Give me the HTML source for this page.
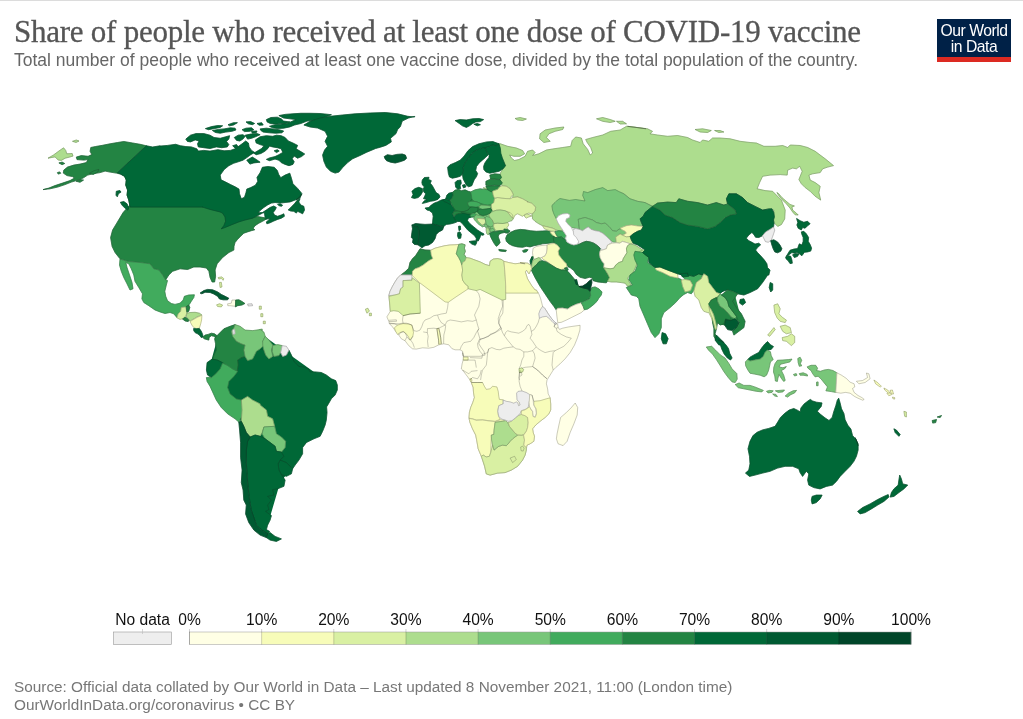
<!DOCTYPE html>
<html lang="en">
<head>
<meta charset="utf-8">
<title>Share of people who received at least one dose of COVID-19 vaccine</title>
<style>
html,body{margin:0;padding:0;background:#fff;}
html{overflow:hidden;}
body{width:1023px;height:719px;position:relative;overflow:hidden;filter:blur(0.45px);font-family:"Liberation Sans",Arial,sans-serif;}
#topline{position:absolute;left:0;top:0;width:1023px;height:1px;background:#dcdcdc;}
#title{position:absolute;left:14px;top:15.2px;margin:0;font-family:"Liberation Serif","DejaVu Serif",serif;font-weight:400;font-size:31px;line-height:34px;color:#555;white-space:nowrap;letter-spacing:-0.25px;-webkit-text-stroke:0.3px #555;}
#subtitle{position:absolute;left:14px;top:50px;margin:0;font-size:17.5px;line-height:20px;color:#666;white-space:nowrap;}
#logo{position:absolute;left:937px;top:19px;width:74px;height:37.5px;background:#002147;border-bottom:5px solid #dc2a22;color:#fff;text-align:center;font-size:15.7px;line-height:16px;letter-spacing:-0.45px;padding-top:0;box-sizing:content-box;}
#logo span{display:block;}
#logo span:first-child{padding-top:3.5px;}
#map{position:absolute;left:0;top:0;}
.leg{position:absolute;font-size:15.6px;line-height:18px;color:#111;white-space:nowrap;transform:translateX(-50%);top:611px;}
#footer{position:absolute;left:14px;top:678px;font-size:15.33px;line-height:18.3px;color:#777;white-space:nowrap;}
</style>
</head>
<body>
<div id="topline"></div>
<h1 id="title">Share of people who received at least one dose of COVID-19 vaccine</h1>
<p id="subtitle">Total number of people who received at least one vaccine dose, divided by the total population of the country.</p>
<div id="logo"><span>Our World</span><span>in Data</span></div>
<svg id="map" width="1023" height="719" viewBox="0 0 1023 719" style="position:absolute;left:0;top:0">
<g stroke-linejoin="round">
<path fill="#238443" stroke="#238443" stroke-width="0.7" d="M130.1,205.1L202.7,205.1L200,205.1L227.5,205.1L227.5,222.6L257.5,216.5L264.8,217.8L265.7,219.4L262.5,221.3L258.8,223.2L255,225.7L253.2,228.2L254.8,229.8L251.3,230.7L247.5,231.9L243.8,233.2L240.6,236.3L237.5,239.4L235,242.6L234,246.3L233.8,250.1L228.9,252.5L222.6,257.5L217.1,263.8L215.1,270L215.6,276.3L214.6,282L212.1,282L210.1,277.5L208.9,271.3L206.4,268L200.1,267L193.8,267L187.6,269.5L180.1,268.8L172.6,271.3L168.8,275L165.6,280L162.6,275L158.8,270L153.8,268.8L150,263.8L140,262.5L127.5,261.3L120,258.8L115.1,252.6L112.1,246.4L110.6,237.6L112.6,230.1L116.3,223.9L120.1,217.6L123.1,212.6L126.3,208.9Z"/>
<path fill="none" stroke="#1a1a1a" stroke-opacity="0.55" stroke-width="0.42" d="M130.1,205.1L202.7,205.1L200,205.1L227.5,205.1L227.5,222.6L257.5,216.5L264.8,217.8L265.7,219.4L262.5,221.3L258.8,223.2L255,225.7L253.2,228.2L254.8,229.8L251.3,230.7L247.5,231.9L243.8,233.2L240.6,236.3L237.5,239.4L235,242.6L234,246.3L233.8,250.1L228.9,252.5L222.6,257.5L217.1,263.8L215.1,270L215.6,276.3L214.6,282L212.1,282L210.1,277.5L208.9,271.3L206.4,268L200.1,267L193.8,267L187.6,269.5L180.1,268.8L172.6,271.3L168.8,275L165.6,280L162.6,275L158.8,270L153.8,268.8L150,263.8L140,262.5L127.5,261.3L120,258.8L115.1,252.6L112.1,246.4L110.6,237.6L112.6,230.1L116.3,223.9L120.1,217.6L123.1,212.6L126.3,208.9Z"/>
<path fill="#238443" stroke="#238443" stroke-width="0.7" d="M146.4,145.8L140.1,144.3L132.6,143L123.8,141.5L117.6,142.5L110.1,143.8L102.6,145.3L95.6,146.5L90.8,147.5L90.1,151.3L91.8,154.6L88.1,156.3L81.3,155.6L76.3,157.1L77,159.6L83.8,160.1L88.1,159.6L86.3,162.6L80,164.1L73.8,165.1L67.5,167.1L63.8,170.1L63.3,173.1L67,175.6L72.5,176.6L74.5,178.1L70,180.6L62.5,183.1L55,185.6L48.8,188.1L43,189.6L50,188.8L57.5,187.1L65,184.6L71.3,182.1L76.3,180.6L80,179.6L83.8,177.6L87.6,175.1L93.8,173.6L100.1,172.6L105.1,171.1L110.1,172.1L116.3,173.1L120.6,174.1L124.6,176.3L126.3,180.1L125.8,185.1L127.6,190.1L127.1,195.1L128.8,200.1L130.1,206.4L132.6,206.4L130.1,175.1L117.6,172.6Z"/>
<path fill="none" stroke="#1a1a1a" stroke-opacity="0.55" stroke-width="0.42" d="M146.4,145.8L140.1,144.3L132.6,143L123.8,141.5L117.6,142.5L110.1,143.8L102.6,145.3L95.6,146.5L90.8,147.5L90.1,151.3L91.8,154.6L88.1,156.3L81.3,155.6L76.3,157.1L77,159.6L83.8,160.1L88.1,159.6L86.3,162.6L80,164.1L73.8,165.1L67.5,167.1L63.8,170.1L63.3,173.1L67,175.6L72.5,176.6L74.5,178.1L70,180.6L62.5,183.1L55,185.6L48.8,188.1L43,189.6L50,188.8L57.5,187.1L65,184.6L71.3,182.1L76.3,180.6L80,179.6L83.8,177.6L87.6,175.1L93.8,173.6L100.1,172.6L105.1,171.1L110.1,172.1L116.3,173.1L120.6,174.1L124.6,176.3L126.3,180.1L125.8,185.1L127.6,190.1L127.1,195.1L128.8,200.1L130.1,206.4L132.6,206.4L130.1,175.1L117.6,172.6Z"/>
<path fill="#006837" stroke="#006837" stroke-width="0.7" d="M146.4,145.8L152.6,147L160.1,145.8L160,146.1L167.8,145.4L175.6,144.3L180.3,145.7L185.8,146.6L191.3,146.9L196.8,148.8L198.3,151.1L203.8,150.4L210,151.1L217.9,149.7L224.1,150.8L230.4,150.4L235.1,148.8L239,146.1L242.1,143.8L245.7,141L248.4,143L249.1,146.9L251.5,150.4L254.6,152.4L250.7,154.7L246.8,157.6L242.9,160.2L238.2,161.8L233.5,163.3L228.8,165.7L224.1,169.6L220.2,175.1L221,179.8L225.7,182.1L230.4,184.5L235.1,186.8L239,189.1L239.5,193.8L241.3,198.8L244.5,197.3L246,192.6L246.8,189.1L250.7,187.6L255.4,185.2L257.8,181.3L257,177.4L260.1,172.7L262.4,167.3L267.9,166.5L274.2,167.3L277.3,170.4L278.6,174.3L280.7,177.7L285.1,175.1L289.8,173.2L291.4,178.2L292.9,183.7L297.6,188.4L301.5,193.1L300,197.8L296.1,200.1L302,193.8L300.1,197.5L295.1,200L290.1,201.9L285.1,202.5L280.1,203.1L275.1,202.5L271.3,203.1L267.5,205L263.8,207.5L260,210.6L258.2,212.8L262.5,212.5L266.3,210L270,207.5L273.8,206L276.3,207.5L275.1,210L273.2,212.5L274.4,215L277.6,216.3L281.3,215L283.8,213.8L284.4,216.3L281.3,218.2L277.6,219.4L273.8,221L270,222.8L266.9,223.8L266.3,221.9L268.8,220L270,218.5L266.9,219L265.7,219.4L265,216.9L264.4,212.5L262.5,213.1L257.5,215.7L252.5,218.2L245,220L238.8,221.9L232.5,224.4L225,227.5L221.3,228.8L223.8,225.7L225.6,221.3L225,216.9L222.5,213.1L220,211.9L210,209.4L202.5,207.1L202.7,207.1L130.1,207.1L128.8,200.1L127.1,195.1L127.6,190.1L125.8,185.1L126.3,180.1L124.6,176.3L120.6,174.1L117.6,172.6Z"/>
<path fill="none" stroke="#1a1a1a" stroke-opacity="0.55" stroke-width="0.42" d="M146.4,145.8L152.6,147L160.1,145.8L160,146.1L167.8,145.4L175.6,144.3L180.3,145.7L185.8,146.6L191.3,146.9L196.8,148.8L198.3,151.1L203.8,150.4L210,151.1L217.9,149.7L224.1,150.8L230.4,150.4L235.1,148.8L239,146.1L242.1,143.8L245.7,141L248.4,143L249.1,146.9L251.5,150.4L254.6,152.4L250.7,154.7L246.8,157.6L242.9,160.2L238.2,161.8L233.5,163.3L228.8,165.7L224.1,169.6L220.2,175.1L221,179.8L225.7,182.1L230.4,184.5L235.1,186.8L239,189.1L239.5,193.8L241.3,198.8L244.5,197.3L246,192.6L246.8,189.1L250.7,187.6L255.4,185.2L257.8,181.3L257,177.4L260.1,172.7L262.4,167.3L267.9,166.5L274.2,167.3L277.3,170.4L278.6,174.3L280.7,177.7L285.1,175.1L289.8,173.2L291.4,178.2L292.9,183.7L297.6,188.4L301.5,193.1L300,197.8L296.1,200.1L302,193.8L300.1,197.5L295.1,200L290.1,201.9L285.1,202.5L280.1,203.1L275.1,202.5L271.3,203.1L267.5,205L263.8,207.5L260,210.6L258.2,212.8L262.5,212.5L266.3,210L270,207.5L273.8,206L276.3,207.5L275.1,210L273.2,212.5L274.4,215L277.6,216.3L281.3,215L283.8,213.8L284.4,216.3L281.3,218.2L277.6,219.4L273.8,221L270,222.8L266.9,223.8L266.3,221.9L268.8,220L270,218.5L266.9,219L265.7,219.4L265,216.9L264.4,212.5L262.5,213.1L257.5,215.7L252.5,218.2L245,220L238.8,221.9L232.5,224.4L225,227.5L221.3,228.8L223.8,225.7L225.6,221.3L225,216.9L222.5,213.1L220,211.9L210,209.4L202.5,207.1L202.7,207.1L130.1,207.1L128.8,200.1L127.1,195.1L127.6,190.1L125.8,185.1L126.3,180.1L124.6,176.3L120.6,174.1L117.6,172.6Z"/>
<path fill="#238443" stroke="#238443" stroke-width="0.7" d="M89.4,173.3L94.1,170.7L98.8,169.4L98,171.8L93.3,174.4Z"/>
<path fill="none" stroke="#1a1a1a" stroke-opacity="0.55" stroke-width="0.42" d="M89.4,173.3L94.1,170.7L98.8,169.4L98,171.8L93.3,174.4Z"/>
<path fill="#238443" stroke="#238443" stroke-width="0.7" d="M76.1,181.2L80,179.6L83.5,180.1L80,182.3Z"/>
<path fill="none" stroke="#1a1a1a" stroke-opacity="0.55" stroke-width="0.42" d="M76.1,181.2L80,179.6L83.5,180.1L80,182.3Z"/>
<path fill="#238443" stroke="#238443" stroke-width="0.7" d="M58.9,162.9L62.1,162.1L64.7,163.5L62.1,164.7Z"/>
<path fill="none" stroke="#1a1a1a" stroke-opacity="0.55" stroke-width="0.42" d="M58.9,162.9L62.1,162.1L64.7,163.5L62.1,164.7Z"/>
<path fill="#238443" stroke="#238443" stroke-width="0.7" d="M57.4,172.6L59.7,171.9L60.7,173.3L58.2,174.1Z"/>
<path fill="none" stroke="#1a1a1a" stroke-opacity="0.55" stroke-width="0.42" d="M57.4,172.6L59.7,171.9L60.7,173.3L58.2,174.1Z"/>
<path fill="#006837" stroke="#006837" stroke-width="0.7" d="M116.3,191.3L119.9,190.5L121,192.1L118.4,193.7L117.3,196.8L116,195.2Z"/>
<path fill="none" stroke="#1a1a1a" stroke-opacity="0.55" stroke-width="0.42" d="M116.3,191.3L119.9,190.5L121,192.1L118.4,193.7L117.3,196.8L116,195.2Z"/>
<path fill="#006837" stroke="#006837" stroke-width="0.7" d="M120.4,202.3L123.8,201.5L127,203.8L128.8,207.8L127.8,210.1L124.6,207.8L122,205.1Z"/>
<path fill="none" stroke="#1a1a1a" stroke-opacity="0.55" stroke-width="0.42" d="M120.4,202.3L123.8,201.5L127,203.8L128.8,207.8L127.8,210.1L124.6,207.8L122,205.1Z"/>
<path fill="#006837" stroke="#006837" stroke-width="0.7" d="M288.2,210L291.3,206.9L294.4,203.8L297,200.6L300.1,198.5L298.8,201.9L300.7,205L303.8,206.3L304.5,210L302.6,213.8L300.1,212.5L297.6,211.3L296.3,213.1L293.8,211.3L290.7,211Z"/>
<path fill="none" stroke="#1a1a1a" stroke-opacity="0.55" stroke-width="0.42" d="M288.2,210L291.3,206.9L294.4,203.8L297,200.6L300.1,198.5L298.8,201.9L300.7,205L303.8,206.3L304.5,210L302.6,213.8L300.1,212.5L297.6,211.3L296.3,213.1L293.8,211.3L290.7,211Z"/>
<path fill="#006837" stroke="#006837" stroke-width="0.7" d="M277.6,204.4L280.1,203.8L282.6,205.3L281.3,206.3L278.8,205.6Z"/>
<path fill="none" stroke="#1a1a1a" stroke-opacity="0.55" stroke-width="0.42" d="M277.6,204.4L280.1,203.8L282.6,205.3L281.3,206.3L278.8,205.6Z"/>
<path fill="#006837" stroke="#006837" stroke-width="0.7" d="M246.8,160.2L252.3,157.1L256.2,159.4L260.1,162.2L253.8,162.9L249.9,164.1Z"/>
<path fill="none" stroke="#1a1a1a" stroke-opacity="0.55" stroke-width="0.42" d="M246.8,160.2L252.3,157.1L256.2,159.4L260.1,162.2L253.8,162.9L249.9,164.1Z"/>
<path fill="#006837" stroke="#006837" stroke-width="0.7" d="M255.4,139.9L260.1,136.8L266.4,135.7L272.6,136.3L276.5,135.2L281.2,135.7L285.1,137.5L288.3,141L292.9,143L297.6,145.4L296.1,148.8L300.8,151.6L304.7,154L301.5,156.6L297.6,158.2L294.2,156L292.2,158.7L294.2,161.8L292.9,164.4L289,165.7L285.1,164.4L281.2,162.6L278.9,160.2L275,159.1L269.5,160.7L266.4,159.4L269.5,157.9L275,156.6L278.9,154.7L282.8,152.4L281.2,148.8L277.3,147.7L272.6,146.9L269.5,146.1L267.9,148.5L264.8,151.3L260.9,153.5L256.2,154.7L253.8,153.2L257.8,150.8L261.7,148.5L264,145.7L260.1,144.6L256.2,143Z"/>
<path fill="none" stroke="#1a1a1a" stroke-opacity="0.55" stroke-width="0.42" d="M255.4,139.9L260.1,136.8L266.4,135.7L272.6,136.3L276.5,135.2L281.2,135.7L285.1,137.5L288.3,141L292.9,143L297.6,145.4L296.1,148.8L300.8,151.6L304.7,154L301.5,156.6L297.6,158.2L294.2,156L292.2,158.7L294.2,161.8L292.9,164.4L289,165.7L285.1,164.4L281.2,162.6L278.9,160.2L275,159.1L269.5,160.7L266.4,159.4L269.5,157.9L275,156.6L278.9,154.7L282.8,152.4L281.2,148.8L277.3,147.7L272.6,146.9L269.5,146.1L267.9,148.5L264.8,151.3L260.9,153.5L256.2,154.7L253.8,153.2L257.8,150.8L261.7,148.5L264,145.7L260.1,144.6L256.2,143Z"/>
<path fill="#006837" stroke="#006837" stroke-width="0.7" d="M274.2,150.8L277.3,149.7L279.2,151L276.5,152.6Z"/>
<path fill="none" stroke="#1a1a1a" stroke-opacity="0.55" stroke-width="0.42" d="M274.2,150.8L277.3,149.7L279.2,151L276.5,152.6Z"/>
<path fill="#006837" stroke="#006837" stroke-width="0.7" d="M185.8,139.1L190.5,135.2L196,133.6L203.8,133.6L210,135.2L214,137.5L220.2,138.3L225.7,136.8L229.6,135.7L228.8,139.1L226.5,141.4L228.8,144.6L227.3,146.9L221.8,147.7L216.3,146.9L210,148.5L203.8,147.7L198.3,146.9L197.5,143.8L199.1,141L195.2,139.9L190.5,141.9L187.4,141.4Z"/>
<path fill="none" stroke="#1a1a1a" stroke-opacity="0.55" stroke-width="0.42" d="M185.8,139.1L190.5,135.2L196,133.6L203.8,133.6L210,135.2L214,137.5L220.2,138.3L225.7,136.8L229.6,135.7L228.8,139.1L226.5,141.4L228.8,144.6L227.3,146.9L221.8,147.7L216.3,146.9L210,148.5L203.8,147.7L198.3,146.9L197.5,143.8L199.1,141L195.2,139.9L190.5,141.9L187.4,141.4Z"/>
<path fill="#006837" stroke="#006837" stroke-width="0.7" d="M234.3,137.5L238.2,135.2L242.9,134.7L245.2,136.3L242.9,139.1L239.8,141L236.6,140.4Z"/>
<path fill="none" stroke="#1a1a1a" stroke-opacity="0.55" stroke-width="0.42" d="M234.3,137.5L238.2,135.2L242.9,134.7L245.2,136.3L242.9,139.1L239.8,141L236.6,140.4Z"/>
<path fill="#006837" stroke="#006837" stroke-width="0.7" d="M245.2,135.2L250.7,134.1L257,133.6L260.1,134.7L255.4,136.8L251.5,138.3L247.6,139.1Z"/>
<path fill="none" stroke="#1a1a1a" stroke-opacity="0.55" stroke-width="0.42" d="M245.2,135.2L250.7,134.1L257,133.6L260.1,134.7L255.4,136.8L251.5,138.3L247.6,139.1Z"/>
<path fill="#006837" stroke="#006837" stroke-width="0.7" d="M232.7,145.7L236.6,144.6L238.2,146.9L235.1,148.2Z"/>
<path fill="none" stroke="#1a1a1a" stroke-opacity="0.55" stroke-width="0.42" d="M232.7,145.7L236.6,144.6L238.2,146.9L235.1,148.2Z"/>
<path fill="#006837" stroke="#006837" stroke-width="0.7" d="M205.4,128.6L211.6,126.6L217.9,125.5L222.6,125.8L220.2,127.4L214.7,128.5L208.5,129.7Z"/>
<path fill="none" stroke="#1a1a1a" stroke-opacity="0.55" stroke-width="0.42" d="M205.4,128.6L211.6,126.6L217.9,125.5L222.6,125.8L220.2,127.4L214.7,128.5L208.5,129.7Z"/>
<path fill="#006837" stroke="#006837" stroke-width="0.7" d="M212.4,130.5L218.7,129.4L224.1,128.9L230.4,127.8L235.1,128.2L235.9,130L231.9,131.3L225.7,132.1L220.2,133.2L215.5,132.5Z"/>
<path fill="none" stroke="#1a1a1a" stroke-opacity="0.55" stroke-width="0.42" d="M212.4,130.5L218.7,129.4L224.1,128.9L230.4,127.8L235.1,128.2L235.9,130L231.9,131.3L225.7,132.1L220.2,133.2L215.5,132.5Z"/>
<path fill="#006837" stroke="#006837" stroke-width="0.7" d="M228,124.7L233.5,122.7L237.4,122.7L233.5,125L229.6,125.8Z"/>
<path fill="none" stroke="#1a1a1a" stroke-opacity="0.55" stroke-width="0.42" d="M228,124.7L233.5,122.7L237.4,122.7L233.5,125L229.6,125.8Z"/>
<path fill="#006837" stroke="#006837" stroke-width="0.7" d="M242.1,129.7L246,128.2L251.5,127.8L253.8,129.7L249.9,131.3L244.5,131.6Z"/>
<path fill="none" stroke="#1a1a1a" stroke-opacity="0.55" stroke-width="0.42" d="M242.1,129.7L246,128.2L251.5,127.8L253.8,129.7L249.9,131.3L244.5,131.6Z"/>
<path fill="#006837" stroke="#006837" stroke-width="0.7" d="M246,121.9L250.7,121.6L254.6,123.5L252.3,124.7L248.4,123.8Z"/>
<path fill="none" stroke="#1a1a1a" stroke-opacity="0.55" stroke-width="0.42" d="M246,121.9L250.7,121.6L254.6,123.5L252.3,124.7L248.4,123.8Z"/>
<path fill="#006837" stroke="#006837" stroke-width="0.7" d="M257,123.5L261.7,122.7L263.2,125L259.3,125.3Z"/>
<path fill="none" stroke="#1a1a1a" stroke-opacity="0.55" stroke-width="0.42" d="M257,123.5L261.7,122.7L263.2,125L259.3,125.3Z"/>
<path fill="#006837" stroke="#006837" stroke-width="0.7" d="M251.5,131.3L257,131L256.2,132.8L252.3,133.2Z"/>
<path fill="none" stroke="#1a1a1a" stroke-opacity="0.55" stroke-width="0.42" d="M251.5,131.3L257,131L256.2,132.8L252.3,133.2Z"/>
<path fill="#006837" stroke="#006837" stroke-width="0.7" d="M260.1,128.9L266.4,128.2L272.6,128.9L278.9,129.7L283.6,131L282,132.8L275.7,133.2L269.5,132.8L263.2,132.1L260.9,130.5Z"/>
<path fill="none" stroke="#1a1a1a" stroke-opacity="0.55" stroke-width="0.42" d="M260.1,128.9L266.4,128.2L272.6,128.9L278.9,129.7L283.6,131L282,132.8L275.7,133.2L269.5,132.8L263.2,132.1L260.9,130.5Z"/>
<path fill="#006837" stroke="#006837" stroke-width="0.7" d="M266.4,119.6L271,117.5L277.3,117.2L281.2,118.8L283.6,121.1L289.8,121.9L285.1,123.5L280.4,123.5L275.7,124.2L270.3,123.5L267.1,121.9Z"/>
<path fill="none" stroke="#1a1a1a" stroke-opacity="0.55" stroke-width="0.42" d="M266.4,119.6L271,117.5L277.3,117.2L281.2,118.8L283.6,121.1L289.8,121.9L285.1,123.5L280.4,123.5L275.7,124.2L270.3,123.5L267.1,121.9Z"/>
<path fill="#006837" stroke="#006837" stroke-width="0.7" d="M278.9,115.6L285.1,114.4L292.9,113.8L300.8,113.3L310.1,113.3L320,113.5L331.4,114.7L322.7,118L312.6,120.5L307,121.1L300.8,123.5L294.5,125L289.8,126.9L283.6,128.2L277.3,128.5L272.6,127.8L269.5,126.3L274.2,125L280.4,124.2L286.7,123.5L290.6,121.9L296.1,119.6L289.8,118.8L283.6,118Z"/>
<path fill="none" stroke="#1a1a1a" stroke-opacity="0.55" stroke-width="0.42" d="M278.9,115.6L285.1,114.4L292.9,113.8L300.8,113.3L310.1,113.3L320,113.5L331.4,114.7L322.7,118L312.6,120.5L307,121.1L300.8,123.5L294.5,125L289.8,126.9L283.6,128.2L277.3,128.5L272.6,127.8L269.5,126.3L274.2,125L280.4,124.2L286.7,123.5L290.6,121.9L296.1,119.6L289.8,118.8L283.6,118Z"/>
<path fill="#006837" stroke="#006837" stroke-width="0.7" d="M303.9,125L310.1,121.3L320.1,118L330.1,116.3L342.6,115L355.2,113.8L370.2,113L385.2,112.5L397.7,113.8L407.7,116.3L414.7,117L414.7,116.4L408.5,118L402.2,121.1L400.4,126.6L397.5,129.7L396,133.6L390.5,138.3L391.3,141.9L385.8,145.4L380.3,147.2L375.6,148.5L366.3,152.4L360,155.5L352.6,158.8L347.6,162.6L342.6,167.6L338.9,172.1L335.1,173.1L330.6,171.3L326.4,167.1L323.9,161.3L322.6,155.1L324.6,150L327.6,146.3L325.1,141.3L327.6,136.3L325.1,131.3L317.6,128L310.1,127Z"/>
<path fill="none" stroke="#1a1a1a" stroke-opacity="0.55" stroke-width="0.42" d="M303.9,125L310.1,121.3L320.1,118L330.1,116.3L342.6,115L355.2,113.8L370.2,113L385.2,112.5L397.7,113.8L407.7,116.3L414.7,117L414.7,116.4L408.5,118L402.2,121.1L400.4,126.6L397.5,129.7L396,133.6L390.5,138.3L391.3,141.9L385.8,145.4L380.3,147.2L375.6,148.5L366.3,152.4L360,155.5L352.6,158.8L347.6,162.6L342.6,167.6L338.9,172.1L335.1,173.1L330.6,171.3L326.4,167.1L323.9,161.3L322.6,155.1L324.6,150L327.6,146.3L325.1,141.3L327.6,136.3L325.1,131.3L317.6,128L310.1,127Z"/>
<path fill="#005a32" stroke="#005a32" stroke-width="0.7" d="M384.2,156.6L387.4,154.7L392.1,155.5L396.8,154.4L402.2,154L405.4,155.1L406.6,158.2L404.6,160.2L399.9,161.8L395.2,163L390.5,162.2L386.6,160.7L385,158.7Z"/>
<path fill="none" stroke="#1a1a1a" stroke-opacity="0.55" stroke-width="0.42" d="M384.2,156.6L387.4,154.7L392.1,155.5L396.8,154.4L402.2,154L405.4,155.1L406.6,158.2L404.6,160.2L399.9,161.8L395.2,163L390.5,162.2L386.6,160.7L385,158.7Z"/>
<path fill="#41ab5d" stroke="#41ab5d" stroke-width="0.7" d="M120,259L127.5,261.5L140,262.5L150,263.8L153.8,268.8L158.8,270L162.6,275L165.6,280L167.5,280.6L166.3,285L164.8,291.3L165.7,296.3L167.5,300.7L171.3,303.5L175,304.4L180,303.2L183.2,300L184.4,296.3L188.8,295L194.4,294.8L193.8,297.5L191.3,301.3L189.4,304.4L186.9,306.5L185.7,306.9L181.3,307.5L180.7,311.3L178.2,313.8L176.9,317.5L173.8,313.8L170,312.5L165,313.5L160,311.9L155,310L148.8,305.7L143.8,302.5L141.9,298.8L142.5,293.8L138.8,287.5L135,281.3L133.8,275L131.3,268.8L128.8,263.8L125.8,262.5L127,267.5L129.5,275L132,282.5L133,288.8L130,290L127,283.8L123.8,277.5L121.3,271.3L119.5,265Z"/>
<path fill="none" stroke="#1a1a1a" stroke-opacity="0.55" stroke-width="0.42" d="M120,259L127.5,261.5L140,262.5L150,263.8L153.8,268.8L158.8,270L162.6,275L165.6,280L167.5,280.6L166.3,285L164.8,291.3L165.7,296.3L167.5,300.7L171.3,303.5L175,304.4L180,303.2L183.2,300L184.4,296.3L188.8,295L194.4,294.8L193.8,297.5L191.3,301.3L189.4,304.4L186.9,306.5L185.7,306.9L181.3,307.5L180.7,311.3L178.2,313.8L176.9,317.5L173.8,313.8L170,312.5L165,313.5L160,311.9L155,310L148.8,305.7L143.8,302.5L141.9,298.8L142.5,293.8L138.8,287.5L135,281.3L133.8,275L131.3,268.8L128.8,263.8L125.8,262.5L127,267.5L129.5,275L132,282.5L133,288.8L130,290L127,283.8L123.8,277.5L121.3,271.3L119.5,265Z"/>
<path fill="#d9f0a3" stroke="#d9f0a3" stroke-width="0.7" d="M176.9,317.8L178.2,313.8L180.7,311.3L181.3,307.5L185.7,306.9L186.3,310L186.9,312.5L186.3,314.4L185.1,316.9L182.6,318.8L180,319.4Z"/>
<path fill="none" stroke="#1a1a1a" stroke-opacity="0.55" stroke-width="0.42" d="M176.9,317.8L178.2,313.8L180.7,311.3L181.3,307.5L185.7,306.9L186.3,310L186.9,312.5L186.3,314.4L185.1,316.9L182.6,318.8L180,319.4Z"/>
<path fill="#238443" stroke="#238443" stroke-width="0.7" d="M186.3,306.5L188.8,305L189.8,307.5L188.8,311.3L186.9,312.3L186.6,310Z"/>
<path fill="none" stroke="#1a1a1a" stroke-opacity="0.55" stroke-width="0.42" d="M186.3,306.5L188.8,305L189.8,307.5L188.8,311.3L186.9,312.3L186.6,310Z"/>
<path fill="#addd8e" stroke="#addd8e" stroke-width="0.7" d="M186.9,313.2L190.1,312.5L195.1,312.3L199.4,313.2L201.9,315L200.1,316L197.6,316.5L195.1,318.2L191.9,320L190.1,321.3L188.8,319.4L186.3,316.9Z"/>
<path fill="none" stroke="#1a1a1a" stroke-opacity="0.55" stroke-width="0.42" d="M186.9,313.2L190.1,312.5L195.1,312.3L199.4,313.2L201.9,315L200.1,316L197.6,316.5L195.1,318.2L191.9,320L190.1,321.3L188.8,319.4L186.3,316.9Z"/>
<path fill="#238443" stroke="#238443" stroke-width="0.7" d="M182.6,319L185.1,317.3L186.9,318.2L188.8,320L188.2,321.6L185.1,321Z"/>
<path fill="none" stroke="#1a1a1a" stroke-opacity="0.55" stroke-width="0.42" d="M182.6,319L185.1,317.3L186.9,318.2L188.8,320L188.2,321.6L185.1,321Z"/>
<path fill="#f7fcb9" stroke="#f7fcb9" stroke-width="0.7" d="M190.1,321.6L192.6,320L195.7,318.2L198.2,316.9L201.9,315.3L201.6,320L200.7,323.8L199.4,328.2L196.3,328.6L193.8,327.6L191.9,325.1Z"/>
<path fill="none" stroke="#1a1a1a" stroke-opacity="0.55" stroke-width="0.42" d="M190.1,321.6L192.6,320L195.7,318.2L198.2,316.9L201.9,315.3L201.6,320L200.7,323.8L199.4,328.2L196.3,328.6L193.8,327.6L191.9,325.1Z"/>
<path fill="#006837" stroke="#006837" stroke-width="0.7" d="M193.6,328.6L196.3,328.8L199.4,328.6L201.3,331.3L202.6,334.4L203.2,336.9L201.3,337.6L199.4,335.1L197.6,333.8L195.1,332.6L193.8,330.7Z"/>
<path fill="none" stroke="#1a1a1a" stroke-opacity="0.55" stroke-width="0.42" d="M193.6,328.6L196.3,328.8L199.4,328.6L201.3,331.3L202.6,334.4L203.2,336.9L201.3,337.6L199.4,335.1L197.6,333.8L195.1,332.6L193.8,330.7Z"/>
<path fill="#238443" stroke="#238443" stroke-width="0.7" d="M203.2,336.9L205.1,335.1L208.2,334.4L211.3,333.2L214.5,333.8L217,335.7L216.3,338.2L213.8,336.3L211.3,335.7L209.1,337.6L208.8,340.1L206.3,339.4L203.8,338.6Z"/>
<path fill="none" stroke="#1a1a1a" stroke-opacity="0.55" stroke-width="0.42" d="M203.2,336.9L205.1,335.1L208.2,334.4L211.3,333.2L214.5,333.8L217,335.7L216.3,338.2L213.8,336.3L211.3,335.7L209.1,337.6L208.8,340.1L206.3,339.4L203.8,338.6Z"/>
<path fill="#005a32" stroke="#005a32" stroke-width="0.7" d="M200.1,293.1L203.8,290.6L207.6,289.4L212.6,289.8L217.6,291.9L221.3,294.4L225.1,296.3L228.8,298.2L227.6,299.8L223.2,299.8L219.5,299L217.6,296.3L213.8,294L210.1,292.5L205.1,292.3L201.9,293.8Z"/>
<path fill="none" stroke="#1a1a1a" stroke-opacity="0.55" stroke-width="0.42" d="M200.1,293.1L203.8,290.6L207.6,289.4L212.6,289.8L217.6,291.9L221.3,294.4L225.1,296.3L228.8,298.2L227.6,299.8L223.2,299.8L219.5,299L217.6,296.3L213.8,294L210.1,292.5L205.1,292.3L201.9,293.8Z"/>
<path fill="#ffffe5" stroke="#ffffe5" stroke-width="0.7" d="M227.6,303.8L231.3,303.2L232,300L235.7,300L235.4,306.3L230.1,305.7L227.8,305.7Z"/>
<path fill="none" stroke="#1a1a1a" stroke-opacity="0.55" stroke-width="0.42" d="M227.6,303.8L231.3,303.2L232,300L235.7,300L235.4,306.3L230.1,305.7L227.8,305.7Z"/>
<path fill="#238443" stroke="#238443" stroke-width="0.7" d="M235.7,300L238.9,299.8L242,301.5L244.9,303.5L242,305L237.6,305.7L235.4,306.9Z"/>
<path fill="none" stroke="#1a1a1a" stroke-opacity="0.55" stroke-width="0.42" d="M235.7,300L238.9,299.8L242,301.5L244.9,303.5L242,305L237.6,305.7L235.4,306.9Z"/>
<path fill="#d9f0a3" stroke="#d9f0a3" stroke-width="0.7" d="M216.6,304.8L219.5,303.8L222.6,305L221.3,306.9L217.6,306.5Z"/>
<path fill="none" stroke="#1a1a1a" stroke-opacity="0.55" stroke-width="0.42" d="M216.6,304.8L219.5,303.8L222.6,305L221.3,306.9L217.6,306.5Z"/>
<path fill="#ededed" stroke="#ededed" stroke-width="0.7" d="M247.6,304L252,303.8L252.6,305.7L248.2,306Z"/>
<path fill="none" stroke="#1a1a1a" stroke-opacity="0.55" stroke-width="0.42" d="M247.6,304L252,303.8L252.6,305.7L248.2,306Z"/>
<path fill="#d9f0a3" stroke="#d9f0a3" stroke-width="0.7" d="M218.2,277.5L222,276.9L223.8,278.8L223.2,280.3L221.3,278.5L218.8,279Z"/>
<path fill="none" stroke="#1a1a1a" stroke-opacity="0.55" stroke-width="0.42" d="M218.2,277.5L222,276.9L223.8,278.8L223.2,280.3L221.3,278.5L218.8,279Z"/>
<path fill="#d9f0a3" stroke="#d9f0a3" stroke-width="0.7" d="M219.5,282.5L221.3,282.3L222,286.9L220.1,287.5Z"/>
<path fill="none" stroke="#1a1a1a" stroke-opacity="0.55" stroke-width="0.42" d="M219.5,282.5L221.3,282.3L222,286.9L220.1,287.5Z"/>
<path fill="#d9f0a3" stroke="#d9f0a3" stroke-width="0.7" d="M259.3,306.2L261.3,306.2L261.3,309.2L259.3,309.2Z"/>
<path fill="none" stroke="#1a1a1a" stroke-opacity="0.55" stroke-width="0.42" d="M259.3,306.2L261.3,306.2L261.3,309.2L259.3,309.2Z"/>
<path fill="#d9f0a3" stroke="#d9f0a3" stroke-width="0.7" d="M260.8,313.7L262.8,313.7L262.8,316.7L260.8,316.7Z"/>
<path fill="none" stroke="#1a1a1a" stroke-opacity="0.55" stroke-width="0.42" d="M260.8,313.7L262.8,313.7L262.8,316.7L260.8,316.7Z"/>
<path fill="#d9f0a3" stroke="#d9f0a3" stroke-width="0.7" d="M263.3,321.2L265.3,321.2L265.3,323.7L263.3,323.7Z"/>
<path fill="none" stroke="#1a1a1a" stroke-opacity="0.55" stroke-width="0.42" d="M263.3,321.2L265.3,321.2L265.3,323.7L263.3,323.7Z"/>
<path fill="#d9f0a3" stroke="#d9f0a3" stroke-width="0.7" d="M365.4,309.2L367.9,308.2L369.4,311.2L366.9,313.2Z"/>
<path fill="none" stroke="#1a1a1a" stroke-opacity="0.55" stroke-width="0.42" d="M365.4,309.2L367.9,308.2L369.4,311.2L366.9,313.2Z"/>
<path fill="#d9f0a3" stroke="#d9f0a3" stroke-width="0.7" d="M369.4,313.2L371.4,313.2L371.4,315.7L369.4,315.7Z"/>
<path fill="none" stroke="#1a1a1a" stroke-opacity="0.55" stroke-width="0.42" d="M369.4,313.2L371.4,313.2L371.4,315.7L369.4,315.7Z"/>
<path fill="#78c679" stroke="#78c679" stroke-width="0.7" d="M259.2,329.6L262.2,329.1L262.2,331.6L259.7,331.6Z"/>
<path fill="none" stroke="#1a1a1a" stroke-opacity="0.55" stroke-width="0.42" d="M259.2,329.6L262.2,329.1L262.2,331.6L259.7,331.6Z"/>
<path fill="#006837" d="M217.6,337.6L240.1,330.1L262.7,335.1L290.2,355.1L325.2,380.1L320.2,425L300.1,450L290.1,470.1L280.1,482.6L267.6,525.1L252.6,520.1L243.8,430L240.1,420.2L212.6,385.1L210.1,365.1Z"/>
<path fill="#006837" stroke="#006837" stroke-width="0.7" d="M251.4,357.6L255.2,350.1L260.2,348.8L263.9,350.1L265.7,355.1L268.9,358.9L272.7,356.4L278.9,355.6L282.7,356.4L286.4,355.1L288.9,350.1L291.4,355.1L293.9,361.4L297.6,364.8L298.8,366.5L303.8,366.9L308.2,368.8L310.1,371.9L315.1,371.9L321.3,372.5L326.3,375L331.3,378.8L335.7,380.6L337.3,385L337.3,390L335.1,395L331.3,398.8L328.8,403.2L326.6,406.9L327,412.6L326.3,420.1L325.1,425.1L322.6,431.3L320.1,436.3L313.9,438.8L306.4,442.5L302.6,447.5L302.6,453.8L298.9,460.1L295.1,465.1L292.6,468.8L286.4,462.6L280.1,460.1L280.1,453.8L282.6,450L281.4,440L276.4,435L270.1,427.5L270.1,418.8L265.1,416.3L263.9,410L257.6,406.3L250.1,402.5L247.6,397.6L241.4,400.1L236.4,398.9L230.1,393.9L227.6,387.6L228.9,381.4L233.9,376.4L237.1,372.1L238.1,365.1L237.6,360.1L241.4,357.6L245.1,356.4L247.6,360.6Z"/>
<path fill="none" stroke="#1a1a1a" stroke-opacity="0.55" stroke-width="0.42" d="M251.4,357.6L255.2,350.1L260.2,348.8L263.9,350.1L265.7,355.1L268.9,358.9L272.7,356.4L278.9,355.6L282.7,356.4L286.4,355.1L288.9,350.1L291.4,355.1L293.9,361.4L297.6,364.8L298.8,366.5L303.8,366.9L308.2,368.8L310.1,371.9L315.1,371.9L321.3,372.5L326.3,375L331.3,378.8L335.7,380.6L337.3,385L337.3,390L335.1,395L331.3,398.8L328.8,403.2L326.6,406.9L327,412.6L326.3,420.1L325.1,425.1L322.6,431.3L320.1,436.3L313.9,438.8L306.4,442.5L302.6,447.5L302.6,453.8L298.9,460.1L295.1,465.1L292.6,468.8L286.4,462.6L280.1,460.1L280.1,453.8L282.6,450L281.4,440L276.4,435L270.1,427.5L270.1,418.8L265.1,416.3L263.9,410L257.6,406.3L250.1,402.5L247.6,397.6L241.4,400.1L236.4,398.9L230.1,393.9L227.6,387.6L228.9,381.4L233.9,376.4L237.1,372.1L238.1,365.1L237.6,360.1L241.4,357.6L245.1,356.4L247.6,360.6Z"/>
<path fill="#238443" stroke="#238443" stroke-width="0.7" d="M216.4,336.3L220.1,332.6L223.9,328.8L230.1,326.3L235.1,324.6L233.9,328.1L231.4,331.3L232.6,336.3L236.4,341.3L241.4,343.8L245.1,345.1L243.9,350.1L245.1,356.4L241.4,357.6L237.6,360.1L238.1,365.1L237.1,371.4L232.6,369.6L227.6,366.4L222.6,362.6L217.6,360.6L212.6,359.6L213.9,355.1L216.4,350.1L215.6,343.8L214.6,338.8Z"/>
<path fill="none" stroke="#1a1a1a" stroke-opacity="0.55" stroke-width="0.42" d="M216.4,336.3L220.1,332.6L223.9,328.8L230.1,326.3L235.1,324.6L233.9,328.1L231.4,331.3L232.6,336.3L236.4,341.3L241.4,343.8L245.1,345.1L243.9,350.1L245.1,356.4L241.4,357.6L237.6,360.1L238.1,365.1L237.1,371.4L232.6,369.6L227.6,366.4L222.6,362.6L217.6,360.6L212.6,359.6L213.9,355.1L216.4,350.1L215.6,343.8L214.6,338.8Z"/>
<path fill="#78c679" stroke="#78c679" stroke-width="0.7" d="M235.1,324.6L240.1,326.3L245.1,330.1L252.6,330.6L260.2,329.6L263.9,332.1L265.2,336.3L262.7,341.3L263.9,345.1L260.2,348.8L256.4,351.3L252.6,358.9L247.6,360.6L245.1,356.4L243.9,350.1L245.1,345.1L241.4,343.8L236.4,341.3L232.6,336.3L231.4,331.3L233.9,328.1Z"/>
<path fill="none" stroke="#1a1a1a" stroke-opacity="0.55" stroke-width="0.42" d="M235.1,324.6L240.1,326.3L245.1,330.1L252.6,330.6L260.2,329.6L263.9,332.1L265.2,336.3L262.7,341.3L263.9,345.1L260.2,348.8L256.4,351.3L252.6,358.9L247.6,360.6L245.1,356.4L243.9,350.1L245.1,345.1L241.4,343.8L236.4,341.3L232.6,336.3L231.4,331.3L233.9,328.1Z"/>
<path fill="#ededed" stroke="#ededed" stroke-width="0.7" d="M232.6,330.1L234.6,329.1L235.1,333.8L233.1,334.6Z"/>
<path fill="none" stroke="#1a1a1a" stroke-opacity="0.55" stroke-width="0.42" d="M232.6,330.1L234.6,329.1L235.1,333.8L233.1,334.6Z"/>
<path fill="#78c679" stroke="#78c679" stroke-width="0.7" d="M265.2,336.3L268.9,340.1L272.7,345.1L271.4,350.1L272.7,356.4L268.9,358.9L265.7,355.1L263.9,350.1L262.7,345.1L262.7,341.3Z"/>
<path fill="none" stroke="#1a1a1a" stroke-opacity="0.55" stroke-width="0.42" d="M265.2,336.3L268.9,340.1L272.7,345.1L271.4,350.1L272.7,356.4L268.9,358.9L265.7,355.1L263.9,350.1L262.7,345.1L262.7,341.3Z"/>
<path fill="#78c679" stroke="#78c679" stroke-width="0.7" d="M272.7,345.6L277.7,344.6L282.2,345.6L281.4,351.3L278.9,355.6L273.9,356.4L272.2,351.3Z"/>
<path fill="none" stroke="#1a1a1a" stroke-opacity="0.55" stroke-width="0.42" d="M272.7,345.6L277.7,344.6L282.2,345.6L281.4,351.3L278.9,355.6L273.9,356.4L272.2,351.3Z"/>
<path fill="#ededed" stroke="#ededed" stroke-width="0.7" d="M282.2,345.6L286.4,346.3L288.9,350.1L286.4,355.1L282.7,356.4L280.7,352.6Z"/>
<path fill="none" stroke="#1a1a1a" stroke-opacity="0.55" stroke-width="0.42" d="M282.2,345.6L286.4,346.3L288.9,350.1L286.4,355.1L282.7,356.4L280.7,352.6Z"/>
<path fill="#006837" stroke="#006837" stroke-width="0.7" d="M207.1,362.6L212.1,359.1L217.6,360.1L223.1,363.1L220.1,368.9L215.6,373.9L211.4,377.6L207.6,375.1L206.4,370.1Z"/>
<path fill="none" stroke="#1a1a1a" stroke-opacity="0.55" stroke-width="0.42" d="M207.1,362.6L212.1,359.1L217.6,360.1L223.1,363.1L220.1,368.9L215.6,373.9L211.4,377.6L207.6,375.1L206.4,370.1Z"/>
<path fill="#41ab5d" stroke="#41ab5d" stroke-width="0.7" d="M206.4,377.6L211.4,377.6L215.6,373.9L220.1,368.9L222.6,363.1L227.6,365.6L232.6,368.9L237.6,371.4L233.9,376.4L228.9,381.4L227.6,387.6L230.1,393.9L236.4,398.9L241.4,400.1L242.6,410.2L241.4,420.2L241.3,417.5L238.8,422L235.1,418.8L227.6,413.8L221.3,407.5L216.3,400L210.1,386.4L207.1,381.4Z"/>
<path fill="none" stroke="#1a1a1a" stroke-opacity="0.55" stroke-width="0.42" d="M206.4,377.6L211.4,377.6L215.6,373.9L220.1,368.9L222.6,363.1L227.6,365.6L232.6,368.9L237.6,371.4L233.9,376.4L228.9,381.4L227.6,387.6L230.1,393.9L236.4,398.9L241.4,400.1L242.6,410.2L241.4,420.2L241.3,417.5L238.8,422L235.1,418.8L227.6,413.8L221.3,407.5L216.3,400L210.1,386.4L207.1,381.4Z"/>
<path fill="#addd8e" stroke="#addd8e" stroke-width="0.7" d="M241.4,400.1L247.6,396.4L252.6,400.1L260.2,403.9L260.1,405L266.4,410L267.6,416.3L272.6,418.8L274.6,426.3L263.9,427L262.1,432.5L260.1,436.3L255.1,435L250.1,437L246.3,432.5L243.8,426.3L241.3,421.3L242.1,410Z"/>
<path fill="none" stroke="#1a1a1a" stroke-opacity="0.55" stroke-width="0.42" d="M241.4,400.1L247.6,396.4L252.6,400.1L260.2,403.9L260.1,405L266.4,410L267.6,416.3L272.6,418.8L274.6,426.3L263.9,427L262.1,432.5L260.1,436.3L255.1,435L250.1,437L246.3,432.5L243.8,426.3L241.3,421.3L242.1,410Z"/>
<path fill="#78c679" stroke="#78c679" stroke-width="0.7" d="M263.9,427L274.6,426.3L276.4,433.8L281.4,437L285.6,441.3L285.1,447.5L281.4,452.1L276.4,451.3L275.1,446.3L270.1,442.5L265.1,438.8L262.1,433.8Z"/>
<path fill="none" stroke="#1a1a1a" stroke-opacity="0.55" stroke-width="0.42" d="M263.9,427L274.6,426.3L276.4,433.8L281.4,437L285.6,441.3L285.1,447.5L281.4,452.1L276.4,451.3L275.1,446.3L270.1,442.5L265.1,438.8L262.1,433.8Z"/>
<path fill="#006837" stroke="#006837" stroke-width="0.7" d="M280.1,460.1L286.4,462.6L292.6,468.8L291.4,473.8L286.4,476.3L281.4,474.6L278.9,470.1L278.1,463.8Z"/>
<path fill="none" stroke="#1a1a1a" stroke-opacity="0.55" stroke-width="0.42" d="M280.1,460.1L286.4,462.6L292.6,468.8L291.4,473.8L286.4,476.3L281.4,474.6L278.9,470.1L278.1,463.8Z"/>
<path fill="#006837" stroke="#006837" stroke-width="0.7" d="M250.1,437L255.1,435L260.1,436.3L265.1,438.8L270.1,442.5L275.1,446.3L276.4,451.3L281.4,452.1L283.9,456.3L280.1,460.1L278.1,463.8L278.9,470.1L281.4,474.6L285.1,480.1L283.9,486.3L277.6,488.8L272.6,489.6L273.9,495.1L267.6,496.3L271.4,500.1L267.6,505.1L268.9,509.6L265.6,511.4L271.4,515.6L270.1,520.1L267.6,525.1L266.4,529.6L269.6,531.4L267.6,533.9L263.9,531.4L260.1,528.9L256.4,525.1L253.9,517.6L251.3,510.1L249.6,500.1L248.1,487.6L247.1,475.1L246.3,462.6L246.3,450L247.6,441.3Z"/>
<path fill="none" stroke="#1a1a1a" stroke-opacity="0.55" stroke-width="0.42" d="M250.1,437L255.1,435L260.1,436.3L265.1,438.8L270.1,442.5L275.1,446.3L276.4,451.3L281.4,452.1L283.9,456.3L280.1,460.1L278.1,463.8L278.9,470.1L281.4,474.6L285.1,480.1L283.9,486.3L277.6,488.8L272.6,489.6L273.9,495.1L267.6,496.3L271.4,500.1L267.6,505.1L268.9,509.6L265.6,511.4L271.4,515.6L270.1,520.1L267.6,525.1L266.4,529.6L269.6,531.4L267.6,533.9L263.9,531.4L260.1,528.9L256.4,525.1L253.9,517.6L251.3,510.1L249.6,500.1L248.1,487.6L247.1,475.1L246.3,462.6L246.3,450L247.6,441.3Z"/>
<path fill="#006837" stroke="#006837" stroke-width="0.7" d="M266.4,533.9L270.1,532.6L275.1,536.4L281.4,538.9L276.4,541.4L270.1,540.1L266.4,537.6Z"/>
<path fill="none" stroke="#1a1a1a" stroke-opacity="0.55" stroke-width="0.42" d="M266.4,533.9L270.1,532.6L275.1,536.4L281.4,538.9L276.4,541.4L270.1,540.1L266.4,537.6Z"/>
<path fill="#005a32" stroke="#005a32" stroke-width="0.7" d="M238.8,422L241.3,421.3L243.8,426.3L246.3,432.5L250.1,437L247.6,441.3L246.3,450L246.3,462.6L247.1,475.1L248.1,487.6L249.6,500.1L251.3,510.1L253.9,517.6L256.4,525.1L260.1,528.9L263.9,531.4L267.6,533.9L266.4,537.6L260.1,535.1L253.9,530.1L248.8,522.6L245.6,513.9L246.3,505.1L243.8,500.1L243.1,490.1L241.3,482.6L242.1,470.1L240.6,457.6L240.6,442.5L239.6,430Z"/>
<path fill="none" stroke="#1a1a1a" stroke-opacity="0.55" stroke-width="0.42" d="M238.8,422L241.3,421.3L243.8,426.3L246.3,432.5L250.1,437L247.6,441.3L246.3,450L246.3,462.6L247.1,475.1L248.1,487.6L249.6,500.1L251.3,510.1L253.9,517.6L256.4,525.1L260.1,528.9L263.9,531.4L267.6,533.9L266.4,537.6L260.1,535.1L253.9,530.1L248.8,522.6L245.6,513.9L246.3,505.1L243.8,500.1L243.1,490.1L241.3,482.6L242.1,470.1L240.6,457.6L240.6,442.5L239.6,430Z"/>
<path fill="#addd8e" stroke="#addd8e" stroke-width="0.7" d="M499.6,143.5L507.6,146.3L516.4,148L522.6,150.5L524.6,153.8L520.1,156.3L513.9,156.3L509.6,155L511.4,158L514.6,160.5L518.9,159.5L525.1,156.3L527.6,151.3L532.6,150L535.1,152.5L532.6,155.5L538.9,153.8L546.4,150L553.9,148.8L562.7,147.5L570.7,146.3L572.2,140.5L575.7,137L581.4,138L583.2,143.8L587.7,149.5L590.2,155L592.7,153L590.7,147.5L587.2,142.5L585.7,139.5L592.7,137.5L602.7,135L610.7,131.3L620.2,130L626.5,126.3L636.5,127.5L646,128.8L627.5,126.3L637.5,127.5L647.5,128.8L652.5,131.3L650,133.8L657.5,135L667.5,136.3L677.6,135.5L687.6,137.5L692.6,140L700.1,142.5L702.6,140L708.8,141.3L712.6,138L720.1,138L730.1,138.8L740.1,141.3L750.1,142.5L756.4,143L763.9,146.3L775.2,146.3L782.7,145.5L787.7,147.5L790.2,145L800.2,145.5L807.7,147.5L815.2,151.3L820.2,155.1L825.2,158.8L833.5,165.6L827.7,167.1L822.7,168.8L820.2,172.6L812.7,173.8L808.9,175.1L810.2,180.1L815.2,182.6L820.2,186.3L818.9,192.6L820.7,200.1L815.2,196.3L810.2,191.3L805.2,187.6L801.4,183.8L798.9,179.6L802.2,171.3L799.7,166.3L796.4,168.8L792.7,168.1L787.7,170.1L787.2,175.1L780.2,174.6L770.1,175.1L762.6,176.3L759.6,182.6L757.1,188.8L765.1,190.6L772.6,191.3L776.4,195.1L781.4,200.1L785.2,210.1L784.7,218.9L781.4,224.6L777.7,226.4L773.9,222.6L773.1,217.6L773.9,210.1L768.9,208.9L762.6,210.1L755.1,206.4L747.6,202.6L742.6,197.6L736.4,193.8L728.9,193.8L726.4,198.8L727.6,203.9L723.9,205.1L716.3,202.6L707.6,205.1L697.6,202.6L687.6,201.3L678.8,198.8L676.3,202.6L667.5,202.1L657.5,203.1L652.5,206.4L645,202.6L637.5,201.3L630,198.8L623.8,193.8L620,192.1L615.2,196.3L602.7,195.1L590.2,197.6L585.2,203.1L575.2,202.1L565.2,201.1L557.7,201.6L552.7,204.6L553.9,210.1L556.4,214.6L556.3,218.8L558.2,223.1L560.7,226.9L563.2,230.7L558.8,230.7L556.3,230L552.5,228.2L547.5,226.9L542.5,225.7L538.8,223.8L535,221.3L532.5,218.8L532.5,216.3L531.9,213.8L533.8,212.5L535,210.6L535.6,207.5L533.8,205L531.3,203.1L527.5,201.9L528,201.9L522.6,198.8L517.6,196.9L512.6,197.6L513.2,194.4L512,191.9L510.1,188.8L506.4,186.3L502,185.7L501.3,182.6L499.5,179.4L500.1,176.9L500.7,172.5L503.2,168.2L505.1,165.7L502,160L500.1,156.3L498.8,151.9L498.8,147.5L499.5,143.5Z"/>
<path fill="none" stroke="#1a1a1a" stroke-opacity="0.55" stroke-width="0.42" d="M499.6,143.5L507.6,146.3L516.4,148L522.6,150.5L524.6,153.8L520.1,156.3L513.9,156.3L509.6,155L511.4,158L514.6,160.5L518.9,159.5L525.1,156.3L527.6,151.3L532.6,150L535.1,152.5L532.6,155.5L538.9,153.8L546.4,150L553.9,148.8L562.7,147.5L570.7,146.3L572.2,140.5L575.7,137L581.4,138L583.2,143.8L587.7,149.5L590.2,155L592.7,153L590.7,147.5L587.2,142.5L585.7,139.5L592.7,137.5L602.7,135L610.7,131.3L620.2,130L626.5,126.3L636.5,127.5L646,128.8L627.5,126.3L637.5,127.5L647.5,128.8L652.5,131.3L650,133.8L657.5,135L667.5,136.3L677.6,135.5L687.6,137.5L692.6,140L700.1,142.5L702.6,140L708.8,141.3L712.6,138L720.1,138L730.1,138.8L740.1,141.3L750.1,142.5L756.4,143L763.9,146.3L775.2,146.3L782.7,145.5L787.7,147.5L790.2,145L800.2,145.5L807.7,147.5L815.2,151.3L820.2,155.1L825.2,158.8L833.5,165.6L827.7,167.1L822.7,168.8L820.2,172.6L812.7,173.8L808.9,175.1L810.2,180.1L815.2,182.6L820.2,186.3L818.9,192.6L820.7,200.1L815.2,196.3L810.2,191.3L805.2,187.6L801.4,183.8L798.9,179.6L802.2,171.3L799.7,166.3L796.4,168.8L792.7,168.1L787.7,170.1L787.2,175.1L780.2,174.6L770.1,175.1L762.6,176.3L759.6,182.6L757.1,188.8L765.1,190.6L772.6,191.3L776.4,195.1L781.4,200.1L785.2,210.1L784.7,218.9L781.4,224.6L777.7,226.4L773.9,222.6L773.1,217.6L773.9,210.1L768.9,208.9L762.6,210.1L755.1,206.4L747.6,202.6L742.6,197.6L736.4,193.8L728.9,193.8L726.4,198.8L727.6,203.9L723.9,205.1L716.3,202.6L707.6,205.1L697.6,202.6L687.6,201.3L678.8,198.8L676.3,202.6L667.5,202.1L657.5,203.1L652.5,206.4L645,202.6L637.5,201.3L630,198.8L623.8,193.8L620,192.1L615.2,196.3L602.7,195.1L590.2,197.6L585.2,203.1L575.2,202.1L565.2,201.1L557.7,201.6L552.7,204.6L553.9,210.1L556.4,214.6L556.3,218.8L558.2,223.1L560.7,226.9L563.2,230.7L558.8,230.7L556.3,230L552.5,228.2L547.5,226.9L542.5,225.7L538.8,223.8L535,221.3L532.5,218.8L532.5,216.3L531.9,213.8L533.8,212.5L535,210.6L535.6,207.5L533.8,205L531.3,203.1L527.5,201.9L528,201.9L522.6,198.8L517.6,196.9L512.6,197.6L513.2,194.4L512,191.9L510.1,188.8L506.4,186.3L502,185.7L501.3,182.6L499.5,179.4L500.1,176.9L500.7,172.5L503.2,168.2L505.1,165.7L502,160L500.1,156.3L498.8,151.9L498.8,147.5L499.5,143.5Z"/>
<path fill="#addd8e" stroke="#addd8e" stroke-width="0.7" d="M776.9,192.5L778.8,193.8L781.9,197.5L786.3,201.3L790,204.4L794.4,206L791.9,206.9L792.6,210L796.3,213.1L798.2,215L795.1,214.8L792.6,211.9L790,208.1L786.3,203.8L782.5,200L778.8,195.6Z"/>
<path fill="none" stroke="#1a1a1a" stroke-opacity="0.55" stroke-width="0.42" d="M776.9,192.5L778.8,193.8L781.9,197.5L786.3,201.3L790,204.4L794.4,206L791.9,206.9L792.6,210L796.3,213.1L798.2,215L795.1,214.8L792.6,211.9L790,208.1L786.3,203.8L782.5,200L778.8,195.6Z"/>
<path fill="#addd8e" stroke="#addd8e" stroke-width="0.7" d="M540.1,133.8L545.2,130L555.2,128L563.9,127L562.7,129.5L555.2,131.3L548.9,133.8L546.4,137.5L550.2,141.3L543.9,142.5L539.6,138.8Z"/>
<path fill="none" stroke="#1a1a1a" stroke-opacity="0.55" stroke-width="0.42" d="M540.1,133.8L545.2,130L555.2,128L563.9,127L562.7,129.5L555.2,131.3L548.9,133.8L546.4,137.5L550.2,141.3L543.9,142.5L539.6,138.8Z"/>
<path fill="#addd8e" stroke="#addd8e" stroke-width="0.7" d="M515.1,118.5L520.1,117.5L526.4,119L522.6,120.5L517.6,120Z"/>
<path fill="none" stroke="#1a1a1a" stroke-opacity="0.55" stroke-width="0.42" d="M515.1,118.5L520.1,117.5L526.4,119L522.6,120.5L517.6,120Z"/>
<path fill="#addd8e" stroke="#addd8e" stroke-width="0.7" d="M596.5,118.8L602.7,117.5L610.2,119.5L615.2,121.3L610.2,122.5L602.7,121.3Z"/>
<path fill="none" stroke="#1a1a1a" stroke-opacity="0.55" stroke-width="0.42" d="M596.5,118.8L602.7,117.5L610.2,119.5L615.2,121.3L610.2,122.5L602.7,121.3Z"/>
<path fill="#addd8e" stroke="#addd8e" stroke-width="0.7" d="M616.5,121.3L622.7,121.3L626.5,123.8L620.2,124Z"/>
<path fill="none" stroke="#1a1a1a" stroke-opacity="0.55" stroke-width="0.42" d="M616.5,121.3L622.7,121.3L626.5,123.8L620.2,124Z"/>
<path fill="#addd8e" stroke="#addd8e" stroke-width="0.7" d="M695.1,129.5L702.6,128.8L711.3,130.5L707.6,132.5L700.1,132Z"/>
<path fill="none" stroke="#1a1a1a" stroke-opacity="0.55" stroke-width="0.42" d="M695.1,129.5L702.6,128.8L711.3,130.5L707.6,132.5L700.1,132Z"/>
<path fill="#addd8e" stroke="#addd8e" stroke-width="0.7" d="M714.6,130.5L720.1,130.5L723.9,132L718.8,132.5Z"/>
<path fill="none" stroke="#1a1a1a" stroke-opacity="0.55" stroke-width="0.42" d="M714.6,130.5L720.1,130.5L723.9,132L718.8,132.5Z"/>
<path fill="#addd8e" stroke="#addd8e" stroke-width="0.7" d="M48,158.2L53.5,155L58.9,151L63.6,147.8L65.7,150.4L66.8,153.8L72.2,153.5L73,156.1L69.1,157.2L65.2,158.2L61.3,160.4L58.2,160L55,156.9Z"/>
<path fill="none" stroke="#1a1a1a" stroke-opacity="0.55" stroke-width="0.42" d="M48,158.2L53.5,155L58.9,151L63.6,147.8L65.7,150.4L66.8,153.8L72.2,153.5L73,156.1L69.1,157.2L65.2,158.2L61.3,160.4L58.2,160L55,156.9Z"/>
<path fill="#addd8e" stroke="#addd8e" stroke-width="0.7" d="M72.5,141.3L76.3,140L79,141L76,142.5Z"/>
<path fill="none" stroke="#1a1a1a" stroke-opacity="0.55" stroke-width="0.42" d="M72.5,141.3L76.3,140L79,141L76,142.5Z"/>
<path fill="#addd8e" stroke="#addd8e" stroke-width="0.7" d="M483.2,187.8L487.6,188.2L489.5,189.8L485.1,189.4Z"/>
<path fill="none" stroke="#1a1a1a" stroke-opacity="0.55" stroke-width="0.42" d="M483.2,187.8L487.6,188.2L489.5,189.8L485.1,189.4Z"/>
<path fill="#006837" stroke="#006837" stroke-width="0.7" d="M455.1,120.6L460.1,119.6L466.4,120L472.6,118.8L478.9,118.5L483.6,119.6L480.4,121.6L475.7,121.9L472.6,123.5L469.5,125.8L466.4,127.4L462.4,125.8L459.3,123.5Z"/>
<path fill="none" stroke="#1a1a1a" stroke-opacity="0.55" stroke-width="0.42" d="M455.1,120.6L460.1,119.6L466.4,120L472.6,118.8L478.9,118.5L483.6,119.6L480.4,121.6L475.7,121.9L472.6,123.5L469.5,125.8L466.4,127.4L462.4,125.8L459.3,123.5Z"/>
<path fill="#006837" stroke="#006837" stroke-width="0.7" d="M473.9,124.2L477.3,123.5L480.4,124.7L477.3,125.8Z"/>
<path fill="none" stroke="#1a1a1a" stroke-opacity="0.55" stroke-width="0.42" d="M473.9,124.2L477.3,123.5L480.4,124.7L477.3,125.8Z"/>
<path fill="#238443" d="M453.8,193.2L492.6,191.3L495.1,200.1L492.6,211.3L487.6,217.6L456.3,217.6L452.6,205.1Z"/>
<path fill="#78c679" d="M470.1,213.1L492.6,210.6L507.6,213.1L507,229.4L495.1,230.7L490.1,231.9L487,227.8L475.7,218.8Z"/>
<path fill="#006837" stroke="#006837" stroke-width="0.7" d="M447.6,167.3L449.9,164.9L455.4,162.6L460.1,160.2L464,156.3L467.9,150.8L472.6,146.6L478.9,143.8L486.7,141.9L492.9,141.6L498.9,143.8L496.1,145.7L492.2,145L489,146.9L485.1,147.7L480.4,148.8L475.7,150.4L471.4,154L467.9,158.7L464.8,163.3L463.2,167.3L463.5,171.2L462.4,174.3L460.1,176.3L456.2,177.4L452.3,178.2L449.5,177L448.4,173.5Z"/>
<path fill="none" stroke="#1a1a1a" stroke-opacity="0.55" stroke-width="0.42" d="M447.6,167.3L449.9,164.9L455.4,162.6L460.1,160.2L464,156.3L467.9,150.8L472.6,146.6L478.9,143.8L486.7,141.9L492.9,141.6L498.9,143.8L496.1,145.7L492.2,145L489,146.9L485.1,147.7L480.4,148.8L475.7,150.4L471.4,154L467.9,158.7L464.8,163.3L463.2,167.3L463.5,171.2L462.4,174.3L460.1,176.3L456.2,177.4L452.3,178.2L449.5,177L448.4,173.5Z"/>
<path fill="#006837" stroke="#006837" stroke-width="0.7" d="M463.2,167.3L464.8,163.3L467.9,158.7L471.4,154L475.7,150.4L480.4,148.8L485.1,147.7L487,152.4L488.3,154.7L485.4,157.6L482.3,160.2L479.2,162.9L476.5,166.5L475.7,170.4L477.6,173.5L476.5,176.6L474.2,179.8L472.9,182.9L471.8,185.7L468.7,186.8L466.4,185.2L464.8,182.1L463.2,179L462.4,174.3L463.5,171.2Z"/>
<path fill="none" stroke="#1a1a1a" stroke-opacity="0.55" stroke-width="0.42" d="M463.2,167.3L464.8,163.3L467.9,158.7L471.4,154L475.7,150.4L480.4,148.8L485.1,147.7L487,152.4L488.3,154.7L485.4,157.6L482.3,160.2L479.2,162.9L476.5,166.5L475.7,170.4L477.6,173.5L476.5,176.6L474.2,179.8L472.9,182.9L471.8,185.7L468.7,186.8L466.4,185.2L464.8,182.1L463.2,179L462.4,174.3L463.5,171.2Z"/>
<path fill="#006837" stroke="#006837" stroke-width="0.7" d="M487,152.4L485.1,147.7L489,146.9L492.2,145L496.1,145.7L498.9,143.8L500.4,148.5L500.8,153.2L502.3,157.9L503.9,161.8L505.5,165.7L503.1,168.8L499.2,171.2L494.5,172.3L489.8,173.2L485.9,171.9L483.9,169.6L483.6,166.5L484.7,163.3L486.7,160.2L488.9,157.6L489.2,155.1Z"/>
<path fill="none" stroke="#1a1a1a" stroke-opacity="0.55" stroke-width="0.42" d="M487,152.4L485.1,147.7L489,146.9L492.2,145L496.1,145.7L498.9,143.8L500.4,148.5L500.8,153.2L502.3,157.9L503.9,161.8L505.5,165.7L503.1,168.8L499.2,171.2L494.5,172.3L489.8,173.2L485.9,171.9L483.9,169.6L483.6,166.5L484.7,163.3L486.7,160.2L488.9,157.6L489.2,155.1Z"/>
<path fill="#006837" stroke="#006837" stroke-width="0.7" d="M455.1,182.6L456.9,180.7L460.7,180L461.3,183.2L460.1,185.7L460.7,188.6L457.8,189.2L455.7,187.3Z"/>
<path fill="none" stroke="#1a1a1a" stroke-opacity="0.55" stroke-width="0.42" d="M455.1,182.6L456.9,180.7L460.7,180L461.3,183.2L460.1,185.7L460.7,188.6L457.8,189.2L455.7,187.3Z"/>
<path fill="#006837" stroke="#006837" stroke-width="0.7" d="M462.4,185.2L464.8,184.5L466,186.8L463.5,187.9Z"/>
<path fill="none" stroke="#1a1a1a" stroke-opacity="0.55" stroke-width="0.42" d="M462.4,185.2L464.8,184.5L466,186.8L463.5,187.9Z"/>
<path fill="#006837" stroke="#006837" stroke-width="0.7" d="M422.3,180L424.4,177.5L429,177.3L428.5,179.4L431.3,180.7L430.3,183.2L432.3,185.7L434,188.8L436,192.6L439,194.4L440,196.9L437.8,199.4L434,200.7L430.3,201.3L426,202.6L422.3,203.4L424,201.1L426.9,199.6L423.5,198.6L424.8,196.1L425.7,193.8L423.8,191.9L423.1,188.8L424.4,186.9L422.5,185.1L421.9,182.6Z"/>
<path fill="none" stroke="#1a1a1a" stroke-opacity="0.55" stroke-width="0.42" d="M422.3,180L424.4,177.5L429,177.3L428.5,179.4L431.3,180.7L430.3,183.2L432.3,185.7L434,188.8L436,192.6L439,194.4L440,196.9L437.8,199.4L434,200.7L430.3,201.3L426,202.6L422.3,203.4L424,201.1L426.9,199.6L423.5,198.6L424.8,196.1L425.7,193.8L423.8,191.9L423.1,188.8L424.4,186.9L422.5,185.1L421.9,182.6Z"/>
<path fill="#006837" stroke="#006837" stroke-width="0.7" d="M411.9,191.3L415,188.6L418.8,187.3L422.3,188.6L422.5,191.9L420.6,195.3L418.1,197.6L414.4,198.4L411.5,197.6L413.1,194.4Z"/>
<path fill="none" stroke="#1a1a1a" stroke-opacity="0.55" stroke-width="0.42" d="M411.9,191.3L415,188.6L418.8,187.3L422.3,188.6L422.5,191.9L420.6,195.3L418.1,197.6L414.4,198.4L411.5,197.6L413.1,194.4Z"/>
<path fill="#006837" stroke="#006837" stroke-width="0.7" d="M425,208.1L428.8,207.5L431.3,205L434.4,203.1L437.5,201.9L441.3,200L445,199.4L447.5,201.9L450.7,203.8L452.6,206.3L455.1,208.1L454.1,211.3L452.6,213.8L453.8,216.9L455.1,220L456.9,221.9L453.8,223.1L450,224L446.3,224.4L443.8,226.3L440,225.7L436.3,225L432.5,224L432.8,220L433.2,216.3L432.5,213.1L429.4,210.6L426.9,210Z"/>
<path fill="none" stroke="#1a1a1a" stroke-opacity="0.55" stroke-width="0.42" d="M425,208.1L428.8,207.5L431.3,205L434.4,203.1L437.5,201.9L441.3,200L445,199.4L447.5,201.9L450.7,203.8L452.6,206.3L455.1,208.1L454.1,211.3L452.6,213.8L453.8,216.9L455.1,220L456.9,221.9L453.8,223.1L450,224L446.3,224.4L443.8,226.3L440,225.7L436.3,225L432.5,224L432.8,220L433.2,216.3L432.5,213.1L429.4,210.6L426.9,210Z"/>
<path fill="#006837" stroke="#006837" stroke-width="0.7" d="M458.5,226.3L460.3,226L460.7,229.4L459,230.7Z"/>
<path fill="none" stroke="#1a1a1a" stroke-opacity="0.55" stroke-width="0.42" d="M458.5,226.3L460.3,226L460.7,229.4L459,230.7Z"/>
<path fill="#006837" stroke="#006837" stroke-width="0.7" d="M446.9,195.1L448.8,193.2L452.6,192.3L453.2,195.1L451.9,198.2L450,200.1L447.5,199.4L445.7,198.8Z"/>
<path fill="none" stroke="#1a1a1a" stroke-opacity="0.55" stroke-width="0.42" d="M446.9,195.1L448.8,193.2L452.6,192.3L453.2,195.1L451.9,198.2L450,200.1L447.5,199.4L445.7,198.8Z"/>
<path fill="#006837" stroke="#006837" stroke-width="0.7" d="M442.5,200.1L445.7,199.1L447.5,199.7L450,200.3L451.3,203.2L449.4,204.1L446.9,202.6L444.4,201.6Z"/>
<path fill="none" stroke="#1a1a1a" stroke-opacity="0.55" stroke-width="0.42" d="M442.5,200.1L445.7,199.1L447.5,199.7L450,200.3L451.3,203.2L449.4,204.1L446.9,202.6L444.4,201.6Z"/>
<path fill="#238443" stroke="#238443" stroke-width="0.7" d="M452.6,192.3L455.1,190.1L458.8,189.4L461.3,190.7L465.1,189.8L468.2,191.3L470.7,191.9L471.3,195.1L471.9,198.8L470.7,201.3L467.6,202.6L468.2,205.1L470.1,207.6L468.2,210.1L465.1,211.3L461.3,212L457.6,211.3L455.1,210.1L453.2,207L451.3,203.8L450,200.3L451.9,198.2L453.2,195.1Z"/>
<path fill="none" stroke="#1a1a1a" stroke-opacity="0.55" stroke-width="0.42" d="M452.6,192.3L455.1,190.1L458.8,189.4L461.3,190.7L465.1,189.8L468.2,191.3L470.7,191.9L471.3,195.1L471.9,198.8L470.7,201.3L467.6,202.6L468.2,205.1L470.1,207.6L468.2,210.1L465.1,211.3L461.3,212L457.6,211.3L455.1,210.1L453.2,207L451.3,203.8L450,200.3L451.9,198.2L453.2,195.1Z"/>
<path fill="#41ab5d" stroke="#41ab5d" stroke-width="0.7" d="M470.7,191.9L475.1,189.8L480.1,188.8L485.1,189.4L490.1,190.1L492.6,191.3L493.2,195.1L494.5,198.8L493.8,202.6L491.3,204.4L487.6,205.1L483.8,204.4L480.1,203.2L477,201.9L473.8,201.3L471.9,198.8L471.3,195.1Z"/>
<path fill="none" stroke="#1a1a1a" stroke-opacity="0.55" stroke-width="0.42" d="M470.7,191.9L475.1,189.8L480.1,188.8L485.1,189.4L490.1,190.1L492.6,191.3L493.2,195.1L494.5,198.8L493.8,202.6L491.3,204.4L487.6,205.1L483.8,204.4L480.1,203.2L477,201.9L473.8,201.3L471.9,198.8L471.3,195.1Z"/>
<path fill="#41ab5d" stroke="#41ab5d" stroke-width="0.7" d="M467.6,202.6L470.7,201.3L473.8,201.3L477,201.9L480.1,203.2L481.3,205.1L478.8,206.6L475.1,207.3L471.9,207L469.4,206.3L468.2,205.1Z"/>
<path fill="none" stroke="#1a1a1a" stroke-opacity="0.55" stroke-width="0.42" d="M467.6,202.6L470.7,201.3L473.8,201.3L477,201.9L480.1,203.2L481.3,205.1L478.8,206.6L475.1,207.3L471.9,207L469.4,206.3L468.2,205.1Z"/>
<path fill="#78c679" stroke="#78c679" stroke-width="0.7" d="M478.8,206.6L481.3,205.1L485.1,205.3L488.8,205.7L491.3,206.3L490.1,208.6L486.3,209.1L482.6,209.5L480.1,208.8Z"/>
<path fill="none" stroke="#1a1a1a" stroke-opacity="0.55" stroke-width="0.42" d="M478.8,206.6L481.3,205.1L485.1,205.3L488.8,205.7L491.3,206.3L490.1,208.6L486.3,209.1L482.6,209.5L480.1,208.8Z"/>
<path fill="#238443" stroke="#238443" stroke-width="0.7" d="M489.8,175.1L494.5,173.8L500,174.3L501.5,177.4L500,179.5L494.5,179L490.6,179Z"/>
<path fill="none" stroke="#1a1a1a" stroke-opacity="0.55" stroke-width="0.42" d="M489.8,175.1L494.5,173.8L500,174.3L501.5,177.4L500,179.5L494.5,179L490.6,179Z"/>
<path fill="#238443" stroke="#238443" stroke-width="0.7" d="M485.9,181.3L489.8,179.5L494.5,179.3L500,179.8L502.3,182.9L500,185.7L494.5,185.2L489.8,185.7L485.9,185.2Z"/>
<path fill="none" stroke="#1a1a1a" stroke-opacity="0.55" stroke-width="0.42" d="M485.9,181.3L489.8,179.5L494.5,179.3L500,179.8L502.3,182.9L500,185.7L494.5,185.2L489.8,185.7L485.9,185.2Z"/>
<path fill="#238443" stroke="#238443" stroke-width="0.7" d="M485.9,186L489.8,186L494.5,185.7L500,186L500.8,188.4L498.4,191L494.5,192.3L490.6,191.5L487.5,189.5Z"/>
<path fill="none" stroke="#1a1a1a" stroke-opacity="0.55" stroke-width="0.42" d="M485.9,186L489.8,186L494.5,185.7L500,186L500.8,188.4L498.4,191L494.5,192.3L490.6,191.5L487.5,189.5Z"/>
<path fill="#d9f0a3" stroke="#d9f0a3" stroke-width="0.7" d="M493.8,190.7L497.6,189.4L499.5,186.9L502,185.7L506.4,186.3L510.1,188.8L512,191.9L513.2,194.4L511.4,196.3L510.1,198.8L506.4,198.6L501.3,198.2L497.6,197.6L494.5,198.2L493.2,195.1L492.6,191.3Z"/>
<path fill="none" stroke="#1a1a1a" stroke-opacity="0.55" stroke-width="0.42" d="M493.8,190.7L497.6,189.4L499.5,186.9L502,185.7L506.4,186.3L510.1,188.8L512,191.9L513.2,194.4L511.4,196.3L510.1,198.8L506.4,198.6L501.3,198.2L497.6,197.6L494.5,198.2L493.2,195.1L492.6,191.3Z"/>
<path fill="#d9f0a3" stroke="#d9f0a3" stroke-width="0.7" d="M494.5,198.8L497.6,197.6L501.3,198.2L506.4,198.6L510.1,198.8L512.6,197.6L517.6,196.9L522.6,198.8L528,201.9L527.5,201.9L531.3,203.1L533.8,205L535.6,207.5L535,210.6L533.8,212.5L531.9,213.8L528.8,213.1L525,214.4L522.5,216.3L520,215L517.6,213.8L515.1,215L513.2,218.8L511.4,216.9L509.5,214.4L507.6,211.9L504.5,210.6L500.1,210L496.3,210.3L493.2,211.3L492,210.1L491.3,206.3L491.3,204.4L493.8,202.6Z"/>
<path fill="none" stroke="#1a1a1a" stroke-opacity="0.55" stroke-width="0.42" d="M494.5,198.8L497.6,197.6L501.3,198.2L506.4,198.6L510.1,198.8L512.6,197.6L517.6,196.9L522.6,198.8L528,201.9L527.5,201.9L531.3,203.1L533.8,205L535.6,207.5L535,210.6L533.8,212.5L531.9,213.8L528.8,213.1L525,214.4L522.5,216.3L520,215L517.6,213.8L515.1,215L513.2,218.8L511.4,216.9L509.5,214.4L507.6,211.9L504.5,210.6L500.1,210L496.3,210.3L493.2,211.3L492,210.1L491.3,206.3L491.3,204.4L493.8,202.6Z"/>
<path fill="#d9f0a3" stroke="#d9f0a3" stroke-width="0.7" d="M524.4,215L526.9,214L529.4,214.8L531.9,216L528.8,216.9L526.3,218.1L524.8,216.9Z"/>
<path fill="none" stroke="#1a1a1a" stroke-opacity="0.55" stroke-width="0.42" d="M524.4,215L526.9,214L529.4,214.8L531.9,216L528.8,216.9L526.3,218.1L524.8,216.9Z"/>
<path fill="#005a32" stroke="#005a32" stroke-width="0.7" d="M411.9,225L415.6,223.5L420,224L425,224.4L432.5,224.1L436.3,225L440,226L443.8,226.5L442.5,230L438.8,231.9L436.3,234.4L435,238.8L432.5,242.5L428.8,245L425,245.7L421.9,247.8L420,246.3L418.1,245L418.5,240L418.8,235L418.8,230L417.5,226.9L413.8,226.5Z"/>
<path fill="none" stroke="#1a1a1a" stroke-opacity="0.55" stroke-width="0.42" d="M411.9,225L415.6,223.5L420,224L425,224.4L432.5,224.1L436.3,225L440,226L443.8,226.5L442.5,230L438.8,231.9L436.3,234.4L435,238.8L432.5,242.5L428.8,245L425,245.7L421.9,247.8L420,246.3L418.1,245L418.5,240L418.8,235L418.8,230L417.5,226.9L413.8,226.5Z"/>
<path fill="#005a32" stroke="#005a32" stroke-width="0.7" d="M411.9,225L413.8,226.5L417.5,226.9L418.8,230L418.8,235L418.5,240L418.1,244.8L414.4,244.4L412.5,242.5L413.1,238.8L411.3,237.5L411.9,232.5L412.5,228.8Z"/>
<path fill="none" stroke="#1a1a1a" stroke-opacity="0.55" stroke-width="0.42" d="M411.9,225L413.8,226.5L417.5,226.9L418.8,230L418.8,235L418.5,240L418.1,244.8L414.4,244.4L412.5,242.5L413.1,238.8L411.3,237.5L411.9,232.5L412.5,228.8Z"/>
<path fill="#006837" stroke="#006837" stroke-width="0.7" d="M453.8,216.9L456.9,213.8L461.3,213.1L466.3,213.8L470.7,215L471.3,216.9L468.2,218.2L467.5,220.7L470,223.8L473.8,226.9L477.5,230L481.3,232.5L484.1,234L483.2,235.3L480.7,234.8L480,237.5L478.2,241L476,240.3L476.3,238.2L474.4,235.5L471.3,233L467.5,229.8L464.8,226.5L462.3,223.5L460,221.5L457.3,221.5L455,220Z"/>
<path fill="none" stroke="#1a1a1a" stroke-opacity="0.55" stroke-width="0.42" d="M453.8,216.9L456.9,213.8L461.3,213.1L466.3,213.8L470.7,215L471.3,216.9L468.2,218.2L467.5,220.7L470,223.8L473.8,226.9L477.5,230L481.3,232.5L484.1,234L483.2,235.3L480.7,234.8L480,237.5L478.2,241L476,240.3L476.3,238.2L474.4,235.5L471.3,233L467.5,229.8L464.8,226.5L462.3,223.5L460,221.5L457.3,221.5L455,220Z"/>
<path fill="#006837" stroke="#006837" stroke-width="0.7" d="M457.8,232.5L460,231.9L461.3,234.4L460.7,238.2L458.5,238.5L457.5,235.7Z"/>
<path fill="none" stroke="#1a1a1a" stroke-opacity="0.55" stroke-width="0.42" d="M457.8,232.5L460,231.9L461.3,234.4L460.7,238.2L458.5,238.5L457.5,235.7Z"/>
<path fill="#006837" stroke="#006837" stroke-width="0.7" d="M469,241.6L472.5,241L476.9,240.7L476.5,243.2L475.3,245.3L471.9,244.1Z"/>
<path fill="none" stroke="#1a1a1a" stroke-opacity="0.55" stroke-width="0.42" d="M469,241.6L472.5,241L476.9,240.7L476.5,243.2L475.3,245.3L471.9,244.1Z"/>
<path fill="#238443" stroke="#238443" stroke-width="0.7" d="M452.6,213.8L454.1,211.3L457.6,211L460.7,211.5L461.9,213.1L458.8,213.5L455.7,214.4L454.1,216.3Z"/>
<path fill="none" stroke="#1a1a1a" stroke-opacity="0.55" stroke-width="0.42" d="M452.6,213.8L454.1,211.3L457.6,211L460.7,211.5L461.9,213.1L458.8,213.5L455.7,214.4L454.1,216.3Z"/>
<path fill="#238443" stroke="#238443" stroke-width="0.7" d="M461.3,211.9L465.1,211.3L468.2,210L470.1,207.5L471.9,206.9L475.1,207.3L478.2,207.8L477.6,210.6L475.1,212.5L471.3,213.5L468.2,213.1L465.1,212.8Z"/>
<path fill="none" stroke="#1a1a1a" stroke-opacity="0.55" stroke-width="0.42" d="M461.3,211.9L465.1,211.3L468.2,210L470.1,207.5L471.9,206.9L475.1,207.3L478.2,207.8L477.6,210.6L475.1,212.5L471.3,213.5L468.2,213.1L465.1,212.8Z"/>
<path fill="#41ab5d" stroke="#41ab5d" stroke-width="0.7" d="M470.1,215.6L471.9,214L475.1,213.5L476.3,214.8L474.4,216.5L471.3,216.9Z"/>
<path fill="none" stroke="#1a1a1a" stroke-opacity="0.55" stroke-width="0.42" d="M470.1,215.6L471.9,214L475.1,213.5L476.3,214.8L474.4,216.5L471.3,216.9Z"/>
<path fill="#78c679" stroke="#78c679" stroke-width="0.7" d="M474.4,216.5L476.3,214.8L480.1,215.6L483.8,216.3L485.1,218.1L482,218.8L478.8,218.5L477,218.8L478.2,221.3L480.7,223.8L483.8,226.3L482.6,226.9L478.8,224.4L475.7,221.3L473.8,218.8Z"/>
<path fill="none" stroke="#1a1a1a" stroke-opacity="0.55" stroke-width="0.42" d="M474.4,216.5L476.3,214.8L480.1,215.6L483.8,216.3L485.1,218.1L482,218.8L478.8,218.5L477,218.8L478.2,221.3L480.7,223.8L483.8,226.3L482.6,226.9L478.8,224.4L475.7,221.3L473.8,218.8Z"/>
<path fill="#d9f0a3" stroke="#d9f0a3" stroke-width="0.7" d="M477,218.8L478.8,218.5L482,218.8L485.1,219L485.7,221.9L483.8,224.4L482,225L480.1,223.1L478.2,221.3Z"/>
<path fill="none" stroke="#1a1a1a" stroke-opacity="0.55" stroke-width="0.42" d="M477,218.8L478.8,218.5L482,218.8L485.1,219L485.7,221.9L483.8,224.4L482,225L480.1,223.1L478.2,221.3Z"/>
<path fill="#78c679" stroke="#78c679" stroke-width="0.7" d="M485.1,218.1L486.3,216.3L490.1,217.5L492.6,220.6L493.8,223.8L492.6,226.3L490.1,226.9L487.6,225.7L486.1,223.8L485.7,221.3Z"/>
<path fill="none" stroke="#1a1a1a" stroke-opacity="0.55" stroke-width="0.42" d="M485.1,218.1L486.3,216.3L490.1,217.5L492.6,220.6L493.8,223.8L492.6,226.3L490.1,226.9L487.6,225.7L486.1,223.8L485.7,221.3Z"/>
<path fill="#78c679" stroke="#78c679" stroke-width="0.7" d="M483.8,224.8L486.1,224L487.6,226L486.3,227.8L484.5,226.5Z"/>
<path fill="none" stroke="#1a1a1a" stroke-opacity="0.55" stroke-width="0.42" d="M483.8,224.8L486.1,224L487.6,226L486.3,227.8L484.5,226.5Z"/>
<path fill="#78c679" stroke="#78c679" stroke-width="0.7" d="M487.6,226L490.1,226.9L490.7,228.8L488.8,228.5Z"/>
<path fill="none" stroke="#1a1a1a" stroke-opacity="0.55" stroke-width="0.42" d="M487.6,226L490.1,226.9L490.7,228.8L488.8,228.5Z"/>
<path fill="#addd8e" stroke="#addd8e" stroke-width="0.7" d="M486.3,227.8L488.8,228.2L489.5,231.9L488.2,235L486.6,233.2L486.1,230Z"/>
<path fill="none" stroke="#1a1a1a" stroke-opacity="0.55" stroke-width="0.42" d="M486.3,227.8L488.8,228.2L489.5,231.9L488.2,235L486.6,233.2L486.1,230Z"/>
<path fill="#78c679" stroke="#78c679" stroke-width="0.7" d="M489.5,229.4L492.6,228.5L495.1,230L493.8,231.9L490.7,232.3Z"/>
<path fill="none" stroke="#1a1a1a" stroke-opacity="0.55" stroke-width="0.42" d="M489.5,229.4L492.6,228.5L495.1,230L493.8,231.9L490.7,232.3Z"/>
<path fill="#d9f0a3" stroke="#d9f0a3" stroke-width="0.7" d="M493.8,223.8L497.6,223.1L502.6,223.5L507.6,222.5L508.9,225L507,227.5L507.6,229.4L503.9,230L500.1,230.7L496.3,230.7L494.8,229.4L493.6,226.5Z"/>
<path fill="none" stroke="#1a1a1a" stroke-opacity="0.55" stroke-width="0.42" d="M493.8,223.8L497.6,223.1L502.6,223.5L507.6,222.5L508.9,225L507,227.5L507.6,229.4L503.9,230L500.1,230.7L496.3,230.7L494.8,229.4L493.6,226.5Z"/>
<path fill="#addd8e" stroke="#addd8e" stroke-width="0.7" d="M490.1,213.1L493.2,211.3L496.3,210.3L500.1,210L504.5,210.6L507.6,211.9L509.5,214.4L511.4,216.9L513.2,218.8L512,220.6L508.9,221.5L507.6,222.5L502.6,223.5L497.6,223.1L493.8,223.5L492.6,220.6L490.1,217.5L488.8,215Z"/>
<path fill="none" stroke="#1a1a1a" stroke-opacity="0.55" stroke-width="0.42" d="M490.1,213.1L493.2,211.3L496.3,210.3L500.1,210L504.5,210.6L507.6,211.9L509.5,214.4L511.4,216.9L513.2,218.8L512,220.6L508.9,221.5L507.6,222.5L502.6,223.5L497.6,223.1L493.8,223.5L492.6,220.6L490.1,217.5L488.8,215Z"/>
<path fill="#d9f0a3" stroke="#d9f0a3" stroke-width="0.7" d="M507.6,211.9L510.1,212.5L512.6,215L513.2,218.1L511.4,216.9L509.5,214.4Z"/>
<path fill="none" stroke="#1a1a1a" stroke-opacity="0.55" stroke-width="0.42" d="M507.6,211.9L510.1,212.5L512.6,215L513.2,218.1L511.4,216.9L509.5,214.4Z"/>
<path fill="#238443" stroke="#238443" stroke-width="0.7" d="M477.6,210.6L480.1,209L482.6,209.4L486.3,209L490.1,208.5L492,210L490.1,213.1L486.3,215L482.6,215.6L479.5,214.4L477.8,212.5Z"/>
<path fill="none" stroke="#1a1a1a" stroke-opacity="0.55" stroke-width="0.42" d="M477.6,210.6L480.1,209L482.6,209.4L486.3,209L490.1,208.5L492,210L490.1,213.1L486.3,215L482.6,215.6L479.5,214.4L477.8,212.5Z"/>
<path fill="#238443" stroke="#238443" stroke-width="0.7" d="M489.4,233.2L492.6,231.9L496.3,231.3L500.1,230.7L503.8,230.7L505.1,232.3L501.3,233.2L498.8,234.4L498.2,236.9L499.4,240L500.1,242.6L498.2,245.1L496.3,246.3L494.4,243.8L492.6,240.7L490.7,236.9Z"/>
<path fill="none" stroke="#1a1a1a" stroke-opacity="0.55" stroke-width="0.42" d="M489.4,233.2L492.6,231.9L496.3,231.3L500.1,230.7L503.8,230.7L505.1,232.3L501.3,233.2L498.8,234.4L498.2,236.9L499.4,240L500.1,242.6L498.2,245.1L496.3,246.3L494.4,243.8L492.6,240.7L490.7,236.9Z"/>
<path fill="#238443" stroke="#238443" stroke-width="0.7" d="M498.8,249.4L502.6,249.8L506.4,250.3L505.7,251.6L501.3,251.3L499.1,250.7Z"/>
<path fill="none" stroke="#1a1a1a" stroke-opacity="0.55" stroke-width="0.42" d="M498.8,249.4L502.6,249.8L506.4,250.3L505.7,251.6L501.3,251.3L499.1,250.7Z"/>
<path fill="#238443" stroke="#238443" stroke-width="0.7" d="M505.7,238.2L507,235L510.1,232.5L515.1,230.3L520.1,229.4L525.1,229.8L530.1,230.7L536.4,231.3L542.6,231L547.6,230.7L552,231.9L555.1,235L556.4,240L553.9,242.6L548.9,243.2L542.6,243.8L537.6,245.1L533.9,245.7L530.1,246.9L526.3,246.3L522.6,247.3L517.6,246.9L512.6,245.7L508.8,243.8L506.3,241.3Z"/>
<path fill="none" stroke="#1a1a1a" stroke-opacity="0.55" stroke-width="0.42" d="M505.7,238.2L507,235L510.1,232.5L515.1,230.3L520.1,229.4L525.1,229.8L530.1,230.7L536.4,231.3L542.6,231L547.6,230.7L552,231.9L555.1,235L556.4,240L553.9,242.6L548.9,243.2L542.6,243.8L537.6,245.1L533.9,245.7L530.1,246.9L526.3,246.3L522.6,247.3L517.6,246.9L512.6,245.7L508.8,243.8L506.3,241.3Z"/>
<path fill="#238443" stroke="#238443" stroke-width="0.7" d="M503.9,229L507.6,229.4L510.1,231L507.6,233.2L505.1,232.8Z"/>
<path fill="none" stroke="#1a1a1a" stroke-opacity="0.55" stroke-width="0.42" d="M503.9,229L507.6,229.4L510.1,231L507.6,233.2L505.1,232.8Z"/>
<path fill="#238443" stroke="#238443" stroke-width="0.7" d="M522.5,250.7L525.6,249.4L528.1,249.8L526.3,251.9L523.5,252.3Z"/>
<path fill="none" stroke="#1a1a1a" stroke-opacity="0.55" stroke-width="0.42" d="M522.5,250.7L525.6,249.4L528.1,249.8L526.3,251.9L523.5,252.3Z"/>
<path fill="#78c679" stroke="#78c679" stroke-width="0.7" d="M551.9,205.6L555,202.5L557.5,200L560,198.5L569.4,200.4L575.6,199.5L585,201L582.7,195.4L583.5,191.5L587.7,192.6L595.2,189.6L602.7,187.6L607.7,190.6L615.2,189.6L620,192.1L623.8,193.8L630,198.8L637.5,201.3L645,202.6L652.5,206.4L645.1,212.5L643.2,216.3L640.1,218.8L641.4,222.5L643.2,225.7L637.6,226L631.4,225L626.4,225.7L622.6,228.2L618.8,229.4L616.3,231.3L612.6,230.7L608.8,226.3L605.1,223.1L601.3,223.8L596.3,222.5L592.6,220L588.8,218.8L585.1,217.5L581.3,218.5L578.2,219.4L578.8,223.8L579.4,229.4L575.1,228.2L571.3,227.5L568.2,224.4L565.7,221.3L566.3,218.8L569.4,217.5L570,215L567.5,213.5L562.5,214L558.8,215.6L556.3,218.8L553.8,213.8L552.5,210Z"/>
<path fill="none" stroke="#1a1a1a" stroke-opacity="0.55" stroke-width="0.42" d="M551.9,205.6L555,202.5L557.5,200L560,198.5L569.4,200.4L575.6,199.5L585,201L582.7,195.4L583.5,191.5L587.7,192.6L595.2,189.6L602.7,187.6L607.7,190.6L615.2,189.6L620,192.1L623.8,193.8L630,198.8L637.5,201.3L645,202.6L652.5,206.4L645.1,212.5L643.2,216.3L640.1,218.8L641.4,222.5L643.2,225.7L637.6,226L631.4,225L626.4,225.7L622.6,228.2L618.8,229.4L616.3,231.3L612.6,230.7L608.8,226.3L605.1,223.1L601.3,223.8L596.3,222.5L592.6,220L588.8,218.8L585.1,217.5L581.3,218.5L578.2,219.4L578.8,223.8L579.4,229.4L575.1,228.2L571.3,227.5L568.2,224.4L565.7,221.3L566.3,218.8L569.4,217.5L570,215L567.5,213.5L562.5,214L558.8,215.6L556.3,218.8L553.8,213.8L552.5,210Z"/>
<path fill="#78c679" stroke="#78c679" stroke-width="0.7" d="M578.2,219.4L581.3,218.5L585.1,217.5L588.8,218.8L592.6,220L596.3,222.5L601.3,223.8L605.1,223.1L608.8,226.3L612.6,230.7L616.3,231.3L618.8,229.4L622.6,228.2L625.1,231.3L626.4,233.2L622.6,235L620.1,233.8L617.6,235.7L615.7,238.8L616.3,242.5L612.6,241.9L610.1,240L606.3,236.3L602.6,233.2L598.8,231.3L595.1,230.7L591.3,229.4L588.2,226.9L585.1,228.8L582.6,230.7L579.4,229.4L578.8,223.8Z"/>
<path fill="none" stroke="#1a1a1a" stroke-opacity="0.55" stroke-width="0.42" d="M578.2,219.4L581.3,218.5L585.1,217.5L588.8,218.8L592.6,220L596.3,222.5L601.3,223.8L605.1,223.1L608.8,226.3L612.6,230.7L616.3,231.3L618.8,229.4L622.6,228.2L625.1,231.3L626.4,233.2L622.6,235L620.1,233.8L617.6,235.7L615.7,238.8L616.3,242.5L612.6,241.9L610.1,240L606.3,236.3L602.6,233.2L598.8,231.3L595.1,230.7L591.3,229.4L588.2,226.9L585.1,228.8L582.6,230.7L579.4,229.4L578.8,223.8Z"/>
<path fill="#ededed" stroke="#ededed" stroke-width="0.7" d="M572.6,230L575.7,228.5L579.4,229.4L582.6,230.7L585.1,228.8L588.2,226.9L591.3,229.4L595.1,230.7L598.8,231.3L602.6,233.2L606.3,236.3L610.1,240L612,242.5L607.6,245L606.3,248.8L602.6,250L600.1,248.2L597.6,245.7L593.8,243.2L590.1,241.9L586.3,241.3L582.6,242.5L578.8,244.4L578.2,241.3L575.7,237.5L573.2,235L573.6,231.9Z"/>
<path fill="none" stroke="#1a1a1a" stroke-opacity="0.55" stroke-width="0.42" d="M572.6,230L575.7,228.5L579.4,229.4L582.6,230.7L585.1,228.8L588.2,226.9L591.3,229.4L595.1,230.7L598.8,231.3L602.6,233.2L606.3,236.3L610.1,240L612,242.5L607.6,245L606.3,248.8L602.6,250L600.1,248.2L597.6,245.7L593.8,243.2L590.1,241.9L586.3,241.3L582.6,242.5L578.8,244.4L578.2,241.3L575.7,237.5L573.2,235L573.6,231.9Z"/>
<path fill="#f7fcb9" stroke="#f7fcb9" stroke-width="0.7" d="M620.1,228.2L626.4,225.7L631.4,225L637.6,226L643.2,226.5L641.4,230L637.6,231.3L633.2,233.8L630.1,236.3L626.4,236.9L622.6,235.3L626.4,233.2L625.1,231.3L622.6,230Z"/>
<path fill="none" stroke="#1a1a1a" stroke-opacity="0.55" stroke-width="0.42" d="M620.1,228.2L626.4,225.7L631.4,225L637.6,226L643.2,226.5L641.4,230L637.6,231.3L633.2,233.8L630.1,236.3L626.4,236.9L622.6,235.3L626.4,233.2L625.1,231.3L622.6,230Z"/>
<path fill="#d9f0a3" stroke="#d9f0a3" stroke-width="0.7" d="M615.7,236.9L617.6,235.7L620.1,234L622.6,235.3L626.4,236.9L630.1,236.5L631.4,240L633.2,243.2L630.1,243.8L626.4,242.5L622.6,241.3L619.5,243.2L616.3,242.5Z"/>
<path fill="none" stroke="#1a1a1a" stroke-opacity="0.55" stroke-width="0.42" d="M615.7,236.9L617.6,235.7L620.1,234L622.6,235.3L626.4,236.9L630.1,236.5L631.4,240L633.2,243.2L630.1,243.8L626.4,242.5L622.6,241.3L619.5,243.2L616.3,242.5Z"/>
<path fill="#d9f0a3" stroke="#d9f0a3" stroke-width="0.7" d="M542.5,225.7L547.5,226.9L552.5,228.2L556.3,230L555,231.3L551.3,231L547.5,230L544.4,228.8Z"/>
<path fill="none" stroke="#1a1a1a" stroke-opacity="0.55" stroke-width="0.42" d="M542.5,225.7L547.5,226.9L552.5,228.2L556.3,230L555,231.3L551.3,231L547.5,230L544.4,228.8Z"/>
<path fill="#f7fcb9" stroke="#f7fcb9" stroke-width="0.7" d="M550,231.9L553.2,231.3L555.7,233.8L557.5,236.9L555.7,237.5L553.2,235.7L551.3,233.8Z"/>
<path fill="none" stroke="#1a1a1a" stroke-opacity="0.55" stroke-width="0.42" d="M550,231.9L553.2,231.3L555.7,233.8L557.5,236.9L555.7,237.5L553.2,235.7L551.3,233.8Z"/>
<path fill="#41ab5d" stroke="#41ab5d" stroke-width="0.7" d="M555,231.5L558.8,230.7L562.5,231.3L565.7,233.8L566.3,236.3L563.8,238.8L561.3,236.9L558.8,237.5L556.9,235.7L555.7,233.5Z"/>
<path fill="none" stroke="#1a1a1a" stroke-opacity="0.55" stroke-width="0.42" d="M555,231.5L558.8,230.7L562.5,231.3L565.7,233.8L566.3,236.3L563.8,238.8L561.3,236.9L558.8,237.5L556.9,235.7L555.7,233.5Z"/>
<path fill="#238443" stroke="#238443" stroke-width="0.7" d="M553.2,236.3L555.7,237.5L557.5,237.3L561.3,236.9L563.8,238.8L565.7,239L566.9,241.9L570,243.8L573.8,245L577.6,244L578.8,244.5L582.6,242.5L586.3,241.3L590.1,241.9L593.8,243.2L597.6,245.7L600.1,248.2L600.1,250.7L599.5,253.8L600.1,257.6L602,261.3L604.1,263.8L603.8,267.6L605.7,270.7L607.6,273.8L609.5,277.6L607.6,281.3L606.3,282.8L602.6,282.5L597.6,281.9L593.2,280.7L591.9,277.8L589.4,277.3L585.1,278.5L580.1,277.3L576.3,274.4L573.8,270.6L570,267.5L568.2,266.9L566.3,263.8L563.8,261.3L561.3,258.2L558.8,255.1L558.2,251.3L560,248.2L557.5,245L554.4,243.2L553.5,240Z"/>
<path fill="none" stroke="#1a1a1a" stroke-opacity="0.55" stroke-width="0.42" d="M553.2,236.3L555.7,237.5L557.5,237.3L561.3,236.9L563.8,238.8L565.7,239L566.9,241.9L570,243.8L573.8,245L577.6,244L578.8,244.5L582.6,242.5L586.3,241.3L590.1,241.9L593.8,243.2L597.6,245.7L600.1,248.2L600.1,250.7L599.5,253.8L600.1,257.6L602,261.3L604.1,263.8L603.8,267.6L605.7,270.7L607.6,273.8L609.5,277.6L607.6,281.3L606.3,282.8L602.6,282.5L597.6,281.9L593.2,280.7L591.9,277.8L589.4,277.3L585.1,278.5L580.1,277.3L576.3,274.4L573.8,270.6L570,267.5L568.2,266.9L566.3,263.8L563.8,261.3L561.3,258.2L558.8,255.1L558.2,251.3L560,248.2L557.5,245L554.4,243.2L553.5,240Z"/>
<path fill="#f7fcb9" stroke="#f7fcb9" stroke-width="0.7" d="M546.9,245L550.7,243.8L554.4,243.5L557.5,245.3L559.8,248.2L558.2,251.3L558.8,255.1L561.3,258.2L563.8,261.3L566.3,263.8L566.9,266.9L564.4,268.8L560,269.8L556.3,268.2L551.9,265.1L547.5,261.9L543.8,259.8L541.3,257.6L545,255.7L546.5,252.6L546.9,248.8Z"/>
<path fill="none" stroke="#1a1a1a" stroke-opacity="0.55" stroke-width="0.42" d="M546.9,245L550.7,243.8L554.4,243.5L557.5,245.3L559.8,248.2L558.2,251.3L558.8,255.1L561.3,258.2L563.8,261.3L566.3,263.8L566.9,266.9L564.4,268.8L560,269.8L556.3,268.2L551.9,265.1L547.5,261.9L543.8,259.8L541.3,257.6L545,255.7L546.5,252.6L546.9,248.8Z"/>
<path fill="#ffffe5" stroke="#ffffe5" stroke-width="0.7" d="M533.1,248.2L536.3,246.5L540,245.7L546.9,245L546.9,248.8L546.5,252.6L545,255.7L541.3,257.6L538.8,258.2L535,259.4L533.1,257.6L532.5,252.6Z"/>
<path fill="none" stroke="#1a1a1a" stroke-opacity="0.55" stroke-width="0.42" d="M533.1,248.2L536.3,246.5L540,245.7L546.9,245L546.9,248.8L546.5,252.6L545,255.7L541.3,257.6L538.8,258.2L535,259.4L533.1,257.6L532.5,252.6Z"/>
<path fill="#238443" stroke="#238443" stroke-width="0.7" d="M531.5,256.9L533.1,256.6L533.1,259.4L531.9,260.1Z"/>
<path fill="none" stroke="#1a1a1a" stroke-opacity="0.55" stroke-width="0.42" d="M531.5,256.9L533.1,256.6L533.1,259.4L531.9,260.1Z"/>
<path fill="#006837" stroke="#006837" stroke-width="0.7" d="M530,260.6L531.9,256.9L532.5,260L531.9,263.8L531,267.5Z"/>
<path fill="none" stroke="#1a1a1a" stroke-opacity="0.55" stroke-width="0.42" d="M530,260.6L531.9,256.9L532.5,260L531.9,263.8L531,267.5Z"/>
<path fill="#addd8e" stroke="#addd8e" stroke-width="0.7" d="M531.3,270L531.9,263.8L533.1,260L538.8,257.5L541.3,259.4L538.8,261.9L536.3,265L533.8,266.9Z"/>
<path fill="none" stroke="#1a1a1a" stroke-opacity="0.55" stroke-width="0.42" d="M531.3,270L531.9,263.8L533.1,260L538.8,257.5L541.3,259.4L538.8,261.9L536.3,265L533.8,266.9Z"/>
<path fill="#238443" stroke="#238443" stroke-width="0.7" d="M531.3,270L533.8,266.9L536.3,265L538.8,261.9L541.9,260.6L546.3,261.9L551.3,265L556.3,268.1L561.3,270L564.4,269.8L566.9,270.6L569.4,273.1L572.6,276.9L575.1,280L576.9,282.8L578.8,286.3L582.6,287.5L587.6,288.8L590.1,291.3L590.7,295L589.4,298.8L585.1,300.7L581.3,302.6L576.3,304.1L571.3,306.3L567.5,308.8L562.5,307.8L557.5,308.2L556.3,310.1L553.8,306.3L550,301.3L545,293.8L540,286.3L535,277.5Z"/>
<path fill="none" stroke="#1a1a1a" stroke-opacity="0.55" stroke-width="0.42" d="M531.3,270L533.8,266.9L536.3,265L538.8,261.9L541.9,260.6L546.3,261.9L551.3,265L556.3,268.1L561.3,270L564.4,269.8L566.9,270.6L569.4,273.1L572.6,276.9L575.1,280L576.9,282.8L578.8,286.3L582.6,287.5L587.6,288.8L590.1,291.3L590.7,295L589.4,298.8L585.1,300.7L581.3,302.6L576.3,304.1L571.3,306.3L567.5,308.8L562.5,307.8L557.5,308.2L556.3,310.1L553.8,306.3L550,301.3L545,293.8L540,286.3L535,277.5Z"/>
<path fill="#ffffe5" stroke="#ffffe5" stroke-width="0.7" d="M556.3,310.3L557.5,308.3L562.5,308.1L567.5,309.1L571.3,306.6L576.3,304.3L581.3,302.8L583.2,306.3L584.4,309.8L581.3,312.6L576.3,315.1L571.3,317.6L566.3,320.1L561.3,322.3L557.8,322.8L556.9,316.3Z"/>
<path fill="none" stroke="#1a1a1a" stroke-opacity="0.55" stroke-width="0.42" d="M556.3,310.3L557.5,308.3L562.5,308.1L567.5,309.1L571.3,306.6L576.3,304.3L581.3,302.8L583.2,306.3L584.4,309.8L581.3,312.6L576.3,315.1L571.3,317.6L566.3,320.1L561.3,322.3L557.8,322.8L556.9,316.3Z"/>
<path fill="#41ab5d" stroke="#41ab5d" stroke-width="0.7" d="M581.3,302.8L585.1,300.9L589.4,299L590.7,295.3L590.1,291.5L591.9,287.5L595.1,286.9L598.8,288.8L602,291.9L601.3,295L598.8,298.2L597,301.3L593.8,304.4L590.7,306.9L587.6,309.1L584.4,309.8L583.2,306.3Z"/>
<path fill="none" stroke="#1a1a1a" stroke-opacity="0.55" stroke-width="0.42" d="M581.3,302.8L585.1,300.9L589.4,299L590.7,295.3L590.1,291.5L591.9,287.5L595.1,286.9L598.8,288.8L602,291.9L601.3,295L598.8,298.2L597,301.3L593.8,304.4L590.7,306.9L587.6,309.1L584.4,309.8L583.2,306.3Z"/>
<path fill="#004529" stroke="#004529" stroke-width="0.7" d="M578.8,286.5L582.6,286L586.3,283.8L589.4,280.7L591.6,279.4L591.9,282.8L591.1,286.3L590.1,291.3L587.6,289L582.6,287.8Z"/>
<path fill="none" stroke="#1a1a1a" stroke-opacity="0.55" stroke-width="0.42" d="M578.8,286.5L582.6,286L586.3,283.8L589.4,280.7L591.6,279.4L591.9,282.8L591.1,286.3L590.1,291.3L587.6,289L582.6,287.8Z"/>
<path fill="#238443" stroke="#238443" stroke-width="0.7" d="M564.4,268.1L567.3,267.5L568.2,270L566.5,271Z"/>
<path fill="none" stroke="#1a1a1a" stroke-opacity="0.55" stroke-width="0.42" d="M564.4,268.1L567.3,267.5L568.2,270L566.5,271Z"/>
<path fill="#005a32" stroke="#005a32" stroke-width="0.7" d="M574.8,280L576.6,279.5L577.3,282.3L577.8,284.8L576.1,284.4Z"/>
<path fill="none" stroke="#1a1a1a" stroke-opacity="0.55" stroke-width="0.42" d="M574.8,280L576.6,279.5L577.3,282.3L577.8,284.8L576.1,284.4Z"/>
<path fill="#006837" d="M625,250L650,257.5L660,268L680.1,275L705.1,275L715.1,292L722.6,292L735.1,280L685.1,250Z"/>
<path fill="#238443" d="M710.1,300L720.1,294.5L735.1,295.5L740.1,315.1L735.1,327.6L720.1,324.6L712.6,315.1Z"/>
<path fill="#addd8e" d="M625.1,245L645.1,250L640.1,258.8L632.6,273.8L625.1,275.1L607.6,270.1L607.6,250Z"/>
<path fill="#ffffe5" stroke="#ffffe5" stroke-width="0.7" d="M600.1,250.7L602.6,250L606.3,248.8L607.6,245L612,243.2L616.3,242.8L619.5,243.2L622.6,241.5L626.4,242.5L630.1,243.8L627.6,245.7L626.4,248.8L627,252.6L625.1,255.7L623.2,258.8L622.6,261.3L618.8,262.6L615.7,265.1L613.8,268.2L610.1,268.8L606.3,268.6L603.8,267.6L604.1,263.8L602,261.3L600.1,257.6L599.5,253.8Z"/>
<path fill="none" stroke="#1a1a1a" stroke-opacity="0.55" stroke-width="0.42" d="M600.1,250.7L602.6,250L606.3,248.8L607.6,245L612,243.2L616.3,242.8L619.5,243.2L622.6,241.5L626.4,242.5L630.1,243.8L627.6,245.7L626.4,248.8L627,252.6L625.1,255.7L623.2,258.8L622.6,261.3L618.8,262.6L615.7,265.1L613.8,268.2L610.1,268.8L606.3,268.6L603.8,267.6L604.1,263.8L602,261.3L600.1,257.6L599.5,253.8Z"/>
<path fill="#addd8e" stroke="#addd8e" stroke-width="0.7" d="M603.8,267.8L610.1,268.8L613.8,268.2L615.7,265.1L618.8,262.6L622.6,261.3L623.2,258.8L625.1,255.7L627,252.6L626.4,248.8L627.6,245.7L630.1,244L635.1,245L640.1,248.2L642.6,250L638.9,251.9L635.1,253.8L637.6,257.6L638.2,261.3L636.4,265.1L634.5,269.4L632.6,273.2L630.1,275.1L627.6,278.2L628.9,281.3L631.4,285.1L627.6,286.3L625.1,283.2L621.3,282.6L616.3,282L611.3,282L607.6,281.3L609.5,277.6L607.6,273.8L605.7,270.7Z"/>
<path fill="none" stroke="#1a1a1a" stroke-opacity="0.55" stroke-width="0.42" d="M603.8,267.8L610.1,268.8L613.8,268.2L615.7,265.1L618.8,262.6L622.6,261.3L623.2,258.8L625.1,255.7L627,252.6L626.4,248.8L627.6,245.7L630.1,244L635.1,245L640.1,248.2L642.6,250L638.9,251.9L635.1,253.8L637.6,257.6L638.2,261.3L636.4,265.1L634.5,269.4L632.6,273.2L630.1,275.1L627.6,278.2L628.9,281.3L631.4,285.1L627.6,286.3L625.1,283.2L621.3,282.6L616.3,282L611.3,282L607.6,281.3L609.5,277.6L607.6,273.8L605.7,270.7Z"/>
<path fill="#41ab5d" stroke="#41ab5d" stroke-width="0.7" d="M635,251.3L642.5,252.5L648.8,257.5L647.5,262.5L655,267.5L662.6,272.5L670.1,276.3L677.6,278L681.3,279.5L682.6,285L685.1,291.3L690.1,290L692.6,285L690.1,280L685.1,279.5L682.6,276.3L687.6,275L693.8,276.3L698.8,273.8L702.6,275L701.3,278.8L696.3,282.5L695.1,288.8L691.3,293.8L687.6,292.5L683.8,294.5L680.1,297.5L675.6,302.6L670.1,307.6L663.8,312.6L661.3,318.8L661.3,327.6L658.8,333.8L655,337.6L651.3,332.6L647.5,323.8L643.8,315.1L640,306.3L638.8,298.8L636.3,296.3L631.3,295L626.3,287.5L632.5,285L628.8,279.5L630,275L635,271.3L637.5,265L635,260L633.8,255Z"/>
<path fill="none" stroke="#1a1a1a" stroke-opacity="0.55" stroke-width="0.42" d="M635,251.3L642.5,252.5L648.8,257.5L647.5,262.5L655,267.5L662.6,272.5L670.1,276.3L677.6,278L681.3,279.5L682.6,285L685.1,291.3L690.1,290L692.6,285L690.1,280L685.1,279.5L682.6,276.3L687.6,275L693.8,276.3L698.8,273.8L702.6,275L701.3,278.8L696.3,282.5L695.1,288.8L691.3,293.8L687.6,292.5L683.8,294.5L680.1,297.5L675.6,302.6L670.1,307.6L663.8,312.6L661.3,318.8L661.3,327.6L658.8,333.8L655,337.6L651.3,332.6L647.5,323.8L643.8,315.1L640,306.3L638.8,298.8L636.3,296.3L631.3,295L626.3,287.5L632.5,285L628.8,279.5L630,275L635,271.3L637.5,265L635,260L633.8,255Z"/>
<path fill="#f7fcb9" stroke="#f7fcb9" stroke-width="0.7" d="M655,267.5L660,267L668.8,270.5L677.6,273.8L678.1,278L670.1,276.3L662.6,272.5L656.3,270Z"/>
<path fill="none" stroke="#1a1a1a" stroke-opacity="0.55" stroke-width="0.42" d="M655,267.5L660,267L668.8,270.5L677.6,273.8L678.1,278L670.1,276.3L662.6,272.5L656.3,270Z"/>
<path fill="#006837" stroke="#006837" stroke-width="0.7" d="M680.1,273.8L687.6,273L688.8,276.3L682.6,277Z"/>
<path fill="none" stroke="#1a1a1a" stroke-opacity="0.55" stroke-width="0.42" d="M680.1,273.8L687.6,273L688.8,276.3L682.6,277Z"/>
<path fill="#d9f0a3" stroke="#d9f0a3" stroke-width="0.7" d="M681.3,280L685.1,279.5L690.1,280.5L692.6,285L690.6,290.5L685.1,292L682.6,286.3Z"/>
<path fill="none" stroke="#1a1a1a" stroke-opacity="0.55" stroke-width="0.42" d="M681.3,280L685.1,279.5L690.1,280.5L692.6,285L690.6,290.5L685.1,292L682.6,286.3Z"/>
<path fill="#006837" stroke="#006837" stroke-width="0.7" d="M662.1,332.6L665.6,333.8L668.1,338.8L666.3,343.8L663.1,343.8L661.3,338.8Z"/>
<path fill="none" stroke="#1a1a1a" stroke-opacity="0.55" stroke-width="0.42" d="M662.1,332.6L665.6,333.8L668.1,338.8L666.3,343.8L663.1,343.8L661.3,338.8Z"/>
<path fill="#006837" stroke="#006837" stroke-width="0.7" d="M652.5,206.4L660,210.1L665,215.1L672.6,217.6L680.1,222.6L687.6,225.1L697.6,226.4L707.6,228.9L715.1,226.4L720.1,222.6L725.1,217.6L730.1,215.1L736.4,213.9L735.1,210.1L727.6,203.9L726.4,198.8L728.9,193.8L736.4,193.8L742.6,197.6L747.6,202.6L755.1,206.4L762.6,210.1L768.9,208.9L771.9,208.8L773.8,212.5L774.4,216.9L773.5,220L774,223.2L773.5,227.3L770,229.4L765.7,231.9L762.5,235.7L758.8,237.5L755.6,237.3L753.8,234.4L751.9,232.5L748.8,235L746.3,238.2L748.8,240.7L752.5,242.6L755,244.1L758.8,243.2L760.6,244.8L757.5,247.6L755.6,250.1L757.5,252.6L760.6,255.7L764.4,260.1L766.9,263.8L767.5,267.6L770,270.1L768.8,275.1L767.7,275L762.6,282.5L757.6,288.8L750.1,292.5L743.9,295L737.6,293.8L732.6,291.3L727.6,290L722.6,291.3L720.1,293.8L716.4,292.5L712.6,287.5L708.8,282.5L707.6,276.3L703.8,273.8L702.6,275L698.8,273.8L693.8,276.3L687.6,275L687.6,273L680.1,273.8L677.6,273.8L668.8,270.5L660,267L655,267.5L648.8,262.5L648.8,257.5L642.5,252.5L645.1,250L641.4,247.5L637.6,245L633.2,243.2L631.4,240L630.1,236.5L633.2,233.8L637.6,231.3L641.4,230L643.2,226.5L641.4,222.5L640.1,218.8L643.2,216.3L645.1,212.5Z"/>
<path fill="none" stroke="#1a1a1a" stroke-opacity="0.55" stroke-width="0.42" d="M652.5,206.4L660,210.1L665,215.1L672.6,217.6L680.1,222.6L687.6,225.1L697.6,226.4L707.6,228.9L715.1,226.4L720.1,222.6L725.1,217.6L730.1,215.1L736.4,213.9L735.1,210.1L727.6,203.9L726.4,198.8L728.9,193.8L736.4,193.8L742.6,197.6L747.6,202.6L755.1,206.4L762.6,210.1L768.9,208.9L771.9,208.8L773.8,212.5L774.4,216.9L773.5,220L774,223.2L773.5,227.3L770,229.4L765.7,231.9L762.5,235.7L758.8,237.5L755.6,237.3L753.8,234.4L751.9,232.5L748.8,235L746.3,238.2L748.8,240.7L752.5,242.6L755,244.1L758.8,243.2L760.6,244.8L757.5,247.6L755.6,250.1L757.5,252.6L760.6,255.7L764.4,260.1L766.9,263.8L767.5,267.6L770,270.1L768.8,275.1L767.7,275L762.6,282.5L757.6,288.8L750.1,292.5L743.9,295L737.6,293.8L732.6,291.3L727.6,290L722.6,291.3L720.1,293.8L716.4,292.5L712.6,287.5L708.8,282.5L707.6,276.3L703.8,273.8L702.6,275L698.8,273.8L693.8,276.3L687.6,275L687.6,273L680.1,273.8L677.6,273.8L668.8,270.5L660,267L655,267.5L648.8,262.5L648.8,257.5L642.5,252.5L645.1,250L641.4,247.5L637.6,245L633.2,243.2L631.4,240L630.1,236.5L633.2,233.8L637.6,231.3L641.4,230L643.2,226.5L641.4,222.5L640.1,218.8L643.2,216.3L645.1,212.5Z"/>
<path fill="#238443" stroke="#238443" stroke-width="0.7" d="M652.5,206.4L657.5,203.1L667.5,202.1L676.3,202.6L678.8,198.8L687.6,201.3L697.6,202.6L707.6,205.1L716.3,202.6L723.9,205.1L727.6,203.9L735.1,210.1L736.4,213.9L730.1,215.1L725.1,217.6L720.1,222.6L715.1,226.4L707.6,228.9L697.6,226.4L687.6,225.1L680.1,222.6L672.6,217.6L665,215.1L660,210.1Z"/>
<path fill="none" stroke="#1a1a1a" stroke-opacity="0.55" stroke-width="0.42" d="M652.5,206.4L657.5,203.1L667.5,202.1L676.3,202.6L678.8,198.8L687.6,201.3L697.6,202.6L707.6,205.1L716.3,202.6L723.9,205.1L727.6,203.9L735.1,210.1L736.4,213.9L730.1,215.1L725.1,217.6L720.1,222.6L715.1,226.4L707.6,228.9L697.6,226.4L687.6,225.1L680.1,222.6L672.6,217.6L665,215.1L660,210.1Z"/>
<path fill="#ededed" stroke="#ededed" stroke-width="0.7" d="M762.5,235.7L765.7,231.9L770,229.4L773.5,227L774.8,230L773.8,233.2L772.5,236.9L771.3,240L768.2,242.3L765.4,241.6L764,238.8Z"/>
<path fill="none" stroke="#1a1a1a" stroke-opacity="0.55" stroke-width="0.42" d="M762.5,235.7L765.7,231.9L770,229.4L773.5,227L774.8,230L773.8,233.2L772.5,236.9L771.3,240L768.2,242.3L765.4,241.6L764,238.8Z"/>
<path fill="#005a32" stroke="#005a32" stroke-width="0.7" d="M770.7,240.7L773.8,239.8L777.5,241.9L780,245.1L781.9,248.8L780.7,251.3L777.5,252.8L774.8,251.9L773.2,248.8L771.9,245.1Z"/>
<path fill="none" stroke="#1a1a1a" stroke-opacity="0.55" stroke-width="0.42" d="M770.7,240.7L773.8,239.8L777.5,241.9L780,245.1L781.9,248.8L780.7,251.3L777.5,252.8L774.8,251.9L773.2,248.8L771.9,245.1Z"/>
<path fill="#006837" stroke="#006837" stroke-width="0.7" d="M796.6,218.5L800.1,220.7L803.8,222.3L807.6,221.3L810.1,223.8L807.6,225.7L805.1,228.2L802.6,227.5L801.3,230L798.2,228.2L796.9,225L797.8,222.5Z"/>
<path fill="none" stroke="#1a1a1a" stroke-opacity="0.55" stroke-width="0.42" d="M796.6,218.5L800.1,220.7L803.8,222.3L807.6,221.3L810.1,223.8L807.6,225.7L805.1,228.2L802.6,227.5L801.3,230L798.2,228.2L796.9,225L797.8,222.5Z"/>
<path fill="#006837" stroke="#006837" stroke-width="0.7" d="M801.3,231.9L803.8,231.3L806.3,233.8L808.6,237.5L808.2,241.3L810.1,244.4L811.6,248.2L810.7,251.1L807.6,251.9L804.4,252.3L801.9,255.7L799.4,253.8L796.9,252.6L794.4,253.2L791.9,252.6L789.4,254.4L786.3,256.3L788.2,253.2L790,250.3L793.8,249.1L797.6,248.6L798.8,245.1L799.4,243.8L801.9,245.1L803.2,241.3L803.2,237.5L801.9,234.4Z"/>
<path fill="none" stroke="#1a1a1a" stroke-opacity="0.55" stroke-width="0.42" d="M801.3,231.9L803.8,231.3L806.3,233.8L808.6,237.5L808.2,241.3L810.1,244.4L811.6,248.2L810.7,251.1L807.6,251.9L804.4,252.3L801.9,255.7L799.4,253.8L796.9,252.6L794.4,253.2L791.9,252.6L789.4,254.4L786.3,256.3L788.2,253.2L790,250.3L793.8,249.1L797.6,248.6L798.8,245.1L799.4,243.8L801.9,245.1L803.2,241.3L803.2,237.5L801.9,234.4Z"/>
<path fill="#006837" stroke="#006837" stroke-width="0.7" d="M785.7,256.9L788.2,255.7L790.7,256.3L791.9,260.1L792.3,263.2L790,263.6L788.2,260.7L786,258.8Z"/>
<path fill="none" stroke="#1a1a1a" stroke-opacity="0.55" stroke-width="0.42" d="M785.7,256.9L788.2,255.7L790.7,256.3L791.9,260.1L792.3,263.2L790,263.6L788.2,260.7L786,258.8Z"/>
<path fill="#006837" stroke="#006837" stroke-width="0.7" d="M792.6,254.8L795.7,253.6L798.8,254.1L797.6,256.3L794.4,257.6Z"/>
<path fill="none" stroke="#1a1a1a" stroke-opacity="0.55" stroke-width="0.42" d="M792.6,254.8L795.7,253.6L798.8,254.1L797.6,256.3L794.4,257.6Z"/>
<path fill="#006837" stroke="#006837" stroke-width="0.7" d="M770.2,282.5L772.7,283.8L772.7,290L770.7,292L769.2,287.5Z"/>
<path fill="none" stroke="#1a1a1a" stroke-opacity="0.55" stroke-width="0.42" d="M770.2,282.5L772.7,283.8L772.7,290L770.7,292L769.2,287.5Z"/>
<path fill="#006837" stroke="#006837" stroke-width="0.7" d="M740.1,299.5L743.9,298.8L745.6,302.6L742.6,305.1L739.6,303.1Z"/>
<path fill="none" stroke="#1a1a1a" stroke-opacity="0.55" stroke-width="0.42" d="M740.1,299.5L743.9,298.8L745.6,302.6L742.6,305.1L739.6,303.1Z"/>
<path fill="#d9f0a3" stroke="#d9f0a3" stroke-width="0.7" d="M696.3,282.5L701.3,278.8L703.8,273.8L707.6,276.3L708.8,282.5L712.6,287.5L716.4,292.5L720.1,293.8L716.4,297.5L711.3,300L708.8,303.8L710.1,308.8L712.6,315.1L715.1,322.6L716.4,328.8L713.9,326.3L711.3,317.6L708.8,312.6L707.6,312.6L703.8,311.3L701.3,307.6L698.8,300L695.1,296.3L693.8,291.3Z"/>
<path fill="none" stroke="#1a1a1a" stroke-opacity="0.55" stroke-width="0.42" d="M696.3,282.5L701.3,278.8L703.8,273.8L707.6,276.3L708.8,282.5L712.6,287.5L716.4,292.5L720.1,293.8L716.4,297.5L711.3,300L708.8,303.8L710.1,308.8L712.6,315.1L715.1,322.6L716.4,328.8L713.9,326.3L711.3,317.6L708.8,312.6L707.6,312.6L703.8,311.3L701.3,307.6L698.8,300L695.1,296.3L693.8,291.3Z"/>
<path fill="#238443" stroke="#238443" stroke-width="0.7" d="M711.3,300L716.4,297.5L717.6,301.3L720.1,306.3L723.9,308.8L727.6,312.6L731.4,317.1L730.1,320.1L725.6,318.8L723.9,323.8L720.1,325.1L717.6,322.6L716.4,328.8L715.1,333.8L717.6,338.8L721.4,342.6L720.1,345.1L716.4,341.3L713.9,336.3L713.9,328.8L712.6,322.6L712.6,315.1L710.1,308.8L708.8,303.8Z"/>
<path fill="none" stroke="#1a1a1a" stroke-opacity="0.55" stroke-width="0.42" d="M711.3,300L716.4,297.5L717.6,301.3L720.1,306.3L723.9,308.8L727.6,312.6L731.4,317.1L730.1,320.1L725.6,318.8L723.9,323.8L720.1,325.1L717.6,322.6L716.4,328.8L715.1,333.8L717.6,338.8L721.4,342.6L720.1,345.1L716.4,341.3L713.9,336.3L713.9,328.8L712.6,322.6L712.6,315.1L710.1,308.8L708.8,303.8Z"/>
<path fill="#78c679" stroke="#78c679" stroke-width="0.7" d="M720.1,293.8L721.4,295L725.1,297.5L727.6,301.3L728.9,306.3L732.6,311.3L736.4,316.3L735.1,318.8L731.4,317.1L727.6,312.6L723.9,308.8L720.1,306.3L717.6,301.3L717.6,297.5Z"/>
<path fill="none" stroke="#1a1a1a" stroke-opacity="0.55" stroke-width="0.42" d="M720.1,293.8L721.4,295L725.1,297.5L727.6,301.3L728.9,306.3L732.6,311.3L736.4,316.3L735.1,318.8L731.4,317.1L727.6,312.6L723.9,308.8L720.1,306.3L717.6,301.3L717.6,297.5Z"/>
<path fill="#238443" stroke="#238443" stroke-width="0.7" d="M727.6,290L732.6,291.3L737.6,293.8L735.1,297.5L732.6,301.3L736.4,307.6L741.4,313.8L745.1,321.3L743.9,327.6L738.9,331.3L733.9,335.1L732.6,331.3L736.4,327.6L738.9,322.6L736.4,316.3L732.6,311.3L728.9,306.3L727.6,301.3L725.1,297.5L721.4,295Z"/>
<path fill="none" stroke="#1a1a1a" stroke-opacity="0.55" stroke-width="0.42" d="M727.6,290L732.6,291.3L737.6,293.8L735.1,297.5L732.6,301.3L736.4,307.6L741.4,313.8L745.1,321.3L743.9,327.6L738.9,331.3L733.9,335.1L732.6,331.3L736.4,327.6L738.9,322.6L736.4,316.3L732.6,311.3L728.9,306.3L727.6,301.3L725.1,297.5L721.4,295Z"/>
<path fill="#d9f0a3" stroke="#d9f0a3" stroke-width="0.7" d="M708.8,306.3L711.3,310L713.5,314.4L715.7,322.6L716.8,328.6L715.3,329.4L713.8,323.8L712.3,318.2L710,312.5Z"/>
<path fill="none" stroke="#1a1a1a" stroke-opacity="0.55" stroke-width="0.42" d="M708.8,306.3L711.3,310L713.5,314.4L715.7,322.6L716.8,328.6L715.3,329.4L713.8,323.8L712.3,318.2L710,312.5Z"/>
<path fill="#005a32" stroke="#005a32" stroke-width="0.7" d="M725.6,319.6L730.1,320.6L735.1,318.8L738.9,322.6L736.4,327.6L732.6,330.6L727.6,329.6L724.6,325.1Z"/>
<path fill="none" stroke="#1a1a1a" stroke-opacity="0.55" stroke-width="0.42" d="M725.6,319.6L730.1,320.6L735.1,318.8L738.9,322.6L736.4,327.6L732.6,330.6L727.6,329.6L724.6,325.1Z"/>
<path fill="#006837" stroke="#006837" stroke-width="0.7" d="M716.4,335.1L720.1,338.8L723.9,342.6L718,340L721.9,340.8L725.8,344.7L728.5,348.6L729.7,353.3L732.1,358L730.5,360L727.4,358L724.2,354.1L721.9,349.4L720.3,344.7L718.9,345.1L715.1,340.1Z"/>
<path fill="none" stroke="#1a1a1a" stroke-opacity="0.55" stroke-width="0.42" d="M716.4,335.1L720.1,338.8L723.9,342.6L718,340L721.9,340.8L725.8,344.7L728.5,348.6L729.7,353.3L732.1,358L730.5,360L727.4,358L724.2,354.1L721.9,349.4L720.3,344.7L718.9,345.1L715.1,340.1Z"/>
<path fill="#006837" stroke="#006837" stroke-width="0.7" d="M747.7,359.6L750,357.2L754,354.9L758.7,352.5L761.8,347.8L764.9,343.9L767.6,341.6L770.4,344.7L773.5,346.6L771.2,349.4L767.3,350.2L764.9,352.5L763.3,356.4L760.2,359.1L754.7,360L750,361.1Z"/>
<path fill="none" stroke="#1a1a1a" stroke-opacity="0.55" stroke-width="0.42" d="M747.7,359.6L750,357.2L754,354.9L758.7,352.5L761.8,347.8L764.9,343.9L767.6,341.6L770.4,344.7L773.5,346.6L771.2,349.4L767.3,350.2L764.9,352.5L763.3,356.4L760.2,359.1L754.7,360L750,361.1Z"/>
<path fill="#78c679" stroke="#78c679" stroke-width="0.7" d="M706.3,347L711.7,346.3L715.6,350.2L720.3,354.9L725,358L728.9,363.5L732.1,368.9L736.8,373.6L737.2,379.1L735.2,382.5L732.1,381.9L728.2,377.5L724.2,372.1L720.3,365.8L716.4,359.6L712.5,354.1L708.6,350.2Z"/>
<path fill="none" stroke="#1a1a1a" stroke-opacity="0.55" stroke-width="0.42" d="M706.3,347L711.7,346.3L715.6,350.2L720.3,354.9L725,358L728.9,363.5L732.1,368.9L736.8,373.6L737.2,379.1L735.2,382.5L732.1,381.9L728.2,377.5L724.2,372.1L720.3,365.8L716.4,359.6L712.5,354.1L708.6,350.2Z"/>
<path fill="#78c679" stroke="#78c679" stroke-width="0.7" d="M735.2,384.6L739.1,383L743.8,385.4L750,385.4L754.7,386.9L759.4,388.8L763.3,390.4L761.8,391.9L756.3,391.3L750,390L743.8,388.8L738.3,387.7Z"/>
<path fill="none" stroke="#1a1a1a" stroke-opacity="0.55" stroke-width="0.42" d="M735.2,384.6L739.1,383L743.8,385.4L750,385.4L754.7,386.9L759.4,388.8L763.3,390.4L761.8,391.9L756.3,391.3L750,390L743.8,388.8L738.3,387.7Z"/>
<path fill="#78c679" stroke="#78c679" stroke-width="0.7" d="M745.4,361.9L747.7,359.6L750,361.1L754.7,360L760.2,359.1L763.3,356.4L764.9,352.5L767.3,350.2L770.4,351.7L771.2,355.6L773.2,359.6L770.4,361.9L769.6,365.8L768.5,370.5L766.5,375.2L764.1,376.8L760.2,375.2L754.7,374.1L750,373.2L747.7,369.7L745.7,365.8Z"/>
<path fill="none" stroke="#1a1a1a" stroke-opacity="0.55" stroke-width="0.42" d="M745.4,361.9L747.7,359.6L750,361.1L754.7,360L760.2,359.1L763.3,356.4L764.9,352.5L767.3,350.2L770.4,351.7L771.2,355.6L773.2,359.6L770.4,361.9L769.6,365.8L768.5,370.5L766.5,375.2L764.1,376.8L760.2,375.2L754.7,374.1L750,373.2L747.7,369.7L745.7,365.8Z"/>
<path fill="#78c679" stroke="#78c679" stroke-width="0.7" d="M775.1,363.5L777.4,360.3L782.9,360L788.4,359.6L792,359.1L789.9,361.9L785.2,363.1L780.5,364.2L779,366.9L782.9,367.8L786.3,366.6L784.5,368.9L781.3,370.5L783.7,375.2L785.2,380.4L783.7,381.4L781.3,378.3L779,374.4L777.9,378.3L777.4,381.4L775.4,381L774.8,376L773.5,372.1L773.8,367.4Z"/>
<path fill="none" stroke="#1a1a1a" stroke-opacity="0.55" stroke-width="0.42" d="M775.1,363.5L777.4,360.3L782.9,360L788.4,359.6L792,359.1L789.9,361.9L785.2,363.1L780.5,364.2L779,366.9L782.9,367.8L786.3,366.6L784.5,368.9L781.3,370.5L783.7,375.2L785.2,380.4L783.7,381.4L781.3,378.3L779,374.4L777.9,378.3L777.4,381.4L775.4,381L774.8,376L773.5,372.1L773.8,367.4Z"/>
<path fill="#78c679" stroke="#78c679" stroke-width="0.7" d="M766.5,391.3L769.6,390.4L773.2,390.8L771.9,392.4L768,392.9Z"/>
<path fill="none" stroke="#1a1a1a" stroke-opacity="0.55" stroke-width="0.42" d="M766.5,391.3L769.6,390.4L773.2,390.8L771.9,392.4L768,392.9Z"/>
<path fill="#78c679" stroke="#78c679" stroke-width="0.7" d="M775.4,390.8L779.8,390.4L784.5,390L782.9,391.9L778.2,392.4Z"/>
<path fill="none" stroke="#1a1a1a" stroke-opacity="0.55" stroke-width="0.42" d="M775.4,390.8L779.8,390.4L784.5,390L782.9,391.9L778.2,392.4Z"/>
<path fill="#78c679" stroke="#78c679" stroke-width="0.7" d="M772.7,394L775.9,394.4L777.4,396.6L774.8,396Z"/>
<path fill="none" stroke="#1a1a1a" stroke-opacity="0.55" stroke-width="0.42" d="M772.7,394L775.9,394.4L777.4,396.6L774.8,396Z"/>
<path fill="#78c679" stroke="#78c679" stroke-width="0.7" d="M785.2,396L788.4,393.2L793.1,390.8L796.5,390.4L794.6,392.9L790.7,394.7L787.6,397.1Z"/>
<path fill="none" stroke="#1a1a1a" stroke-opacity="0.55" stroke-width="0.42" d="M785.2,396L788.4,393.2L793.1,390.8L796.5,390.4L794.6,392.9L790.7,394.7L787.6,397.1Z"/>
<path fill="#78c679" stroke="#78c679" stroke-width="0.7" d="M797.8,358.5L800.1,357.2L801.7,360.3L800.4,363.5L801.7,365.8L799.3,366.3L798.2,362.7Z"/>
<path fill="none" stroke="#1a1a1a" stroke-opacity="0.55" stroke-width="0.42" d="M797.8,358.5L800.1,357.2L801.7,360.3L800.4,363.5L801.7,365.8L799.3,366.3L798.2,362.7Z"/>
<path fill="#78c679" stroke="#78c679" stroke-width="0.7" d="M799.3,373.6L803.2,372.8L807.1,374.4L807.6,376L803.2,375.2L800.1,375.2Z"/>
<path fill="none" stroke="#1a1a1a" stroke-opacity="0.55" stroke-width="0.42" d="M799.3,373.6L803.2,372.8L807.1,374.4L807.6,376L803.2,375.2L800.1,375.2Z"/>
<path fill="#78c679" stroke="#78c679" stroke-width="0.7" d="M793.5,374.4L796.2,373.6L797,375.2L794.6,376Z"/>
<path fill="none" stroke="#1a1a1a" stroke-opacity="0.55" stroke-width="0.42" d="M793.5,374.4L796.2,373.6L797,375.2L794.6,376Z"/>
<path fill="#78c679" stroke="#78c679" stroke-width="0.7" d="M816.5,382.2L818.1,381.9L818.1,385.7L816.5,385.7Z"/>
<path fill="none" stroke="#1a1a1a" stroke-opacity="0.55" stroke-width="0.42" d="M816.5,382.2L818.1,381.9L818.1,385.7L816.5,385.7Z"/>
<path fill="#78c679" stroke="#78c679" stroke-width="0.7" d="M807.1,366.9L811,365.3L815.7,365.3L817.6,368.2L816.5,370.5L820.4,371.3L824.3,370L828.3,369.4L832.9,370.5L836.9,372.8L835.8,392.4L831.4,391.6L825.9,390.8L827.5,386.9L824.3,383L821.2,379.1L818.1,376.3L815,376.8L812.6,373.6L811,370.5L808.7,368.9Z"/>
<path fill="none" stroke="#1a1a1a" stroke-opacity="0.55" stroke-width="0.42" d="M807.1,366.9L811,365.3L815.7,365.3L817.6,368.2L816.5,370.5L820.4,371.3L824.3,370L828.3,369.4L832.9,370.5L836.9,372.8L835.8,392.4L831.4,391.6L825.9,390.8L827.5,386.9L824.3,383L821.2,379.1L818.1,376.3L815,376.8L812.6,373.6L811,370.5L808.7,368.9Z"/>
<path fill="#ffffe5" stroke="#ffffe5" stroke-width="0.7" d="M836.9,372.8L841.5,375.2L846.2,378.3L850.1,382.2L854.1,383.8L854.8,386.9L852.5,388.5L854.1,392.4L858,395.5L861.9,397.6L864.2,399.4L862.7,400.2L858,398.2L854.8,396.6L850.1,393.2L845.5,392.4L840.8,393.2L835.8,392.4Z"/>
<path fill="none" stroke="#1a1a1a" stroke-opacity="0.55" stroke-width="0.42" d="M836.9,372.8L841.5,375.2L846.2,378.3L850.1,382.2L854.1,383.8L854.8,386.9L852.5,388.5L854.1,392.4L858,395.5L861.9,397.6L864.2,399.4L862.7,400.2L858,398.2L854.8,396.6L850.1,393.2L845.5,392.4L840.8,393.2L835.8,392.4Z"/>
<path fill="#ffffe5" stroke="#ffffe5" stroke-width="0.7" d="M856.4,381.3L862.6,380.5L867.6,377.5L866.4,373L868.9,373.8L870.1,378.8L865.1,382.5L858.9,383.8Z"/>
<path fill="none" stroke="#1a1a1a" stroke-opacity="0.55" stroke-width="0.42" d="M856.4,381.3L862.6,380.5L867.6,377.5L866.4,373L868.9,373.8L870.1,378.8L865.1,382.5L858.9,383.8Z"/>
<path fill="#d9f0a3" stroke="#d9f0a3" stroke-width="0.7" d="M773.9,305.1L777.7,303.8L780.2,308.8L778.9,313.8L782.7,317.6L786.4,320.1L785.2,322.6L780.2,321.3L777.2,318.1L774.7,312.6Z"/>
<path fill="none" stroke="#1a1a1a" stroke-opacity="0.55" stroke-width="0.42" d="M773.9,305.1L777.7,303.8L780.2,308.8L778.9,313.8L782.7,317.6L786.4,320.1L785.2,322.6L780.2,321.3L777.2,318.1L774.7,312.6Z"/>
<path fill="#d9f0a3" stroke="#d9f0a3" stroke-width="0.7" d="M780.2,326.3L785.2,325.1L790.2,327.6L791.4,332.6L786.4,333.8L782.7,331.3Z"/>
<path fill="none" stroke="#1a1a1a" stroke-opacity="0.55" stroke-width="0.42" d="M780.2,326.3L785.2,325.1L790.2,327.6L791.4,332.6L786.4,333.8L782.7,331.3Z"/>
<path fill="#d9f0a3" stroke="#d9f0a3" stroke-width="0.7" d="M782.2,337.6L787.7,336.3L791.4,333.8L794.7,336.3L794.7,342.6L791.4,345.6L786.4,341.3L782.7,340.6Z"/>
<path fill="none" stroke="#1a1a1a" stroke-opacity="0.55" stroke-width="0.42" d="M782.2,337.6L787.7,336.3L791.4,333.8L794.7,336.3L794.7,342.6L791.4,345.6L786.4,341.3L782.7,340.6Z"/>
<path fill="#d9f0a3" stroke="#d9f0a3" stroke-width="0.7" d="M767.7,335.1L773.9,327.6L775.2,329.6L769.7,336.3Z"/>
<path fill="none" stroke="#1a1a1a" stroke-opacity="0.55" stroke-width="0.42" d="M767.7,335.1L773.9,327.6L775.2,329.6L769.7,336.3Z"/>
<path fill="#006837" stroke="#006837" stroke-width="0.7" d="M745.5,473.1L748.8,470.1L750,463.8L749.5,456.3L748,448.8L750,441.3L753,435.6L753.2,435.4L757.1,432.3L762.6,429.9L768.8,428.4L775.1,426.3L778.2,421.3L780.5,417.4L784.5,413.5L789.1,410.1L793.8,408.5L797.8,410.4L800.1,411.9L800.9,408L804,404.1L807.9,401L810.3,399.4L812.6,401L816.5,402.2L822,402.9L821.2,406.5L817.3,411.2L820.4,414.3L825.1,417.9L829,420.5L832.2,417.4L833.7,411.9L835.8,405.7L837.3,400.2L838.7,398.2L840,402.6L841.5,408.8L843.9,413.5L845.1,419.8L847.8,425.2L850.9,429.1L852.5,435.4L856.4,440.1L858,445.6L855.1,437.6L858.1,443.8L858.1,450.1L856.4,456.3L853.9,461.3L850.1,466.3L845.1,471.3L840.1,476.4L836.4,481.4L832.6,485.1L826.3,486.4L820.1,488.9L813.8,487.6L808.8,485.1L807.6,480.1L808.8,473.9L806.3,471.3L802.6,476.4L800.1,472.6L798.8,468.8L792.6,466.3L785.1,466.3L777.5,468.1L770,471.3L762.5,473.1L755,475.1L749.5,476.4Z"/>
<path fill="none" stroke="#1a1a1a" stroke-opacity="0.55" stroke-width="0.42" d="M745.5,473.1L748.8,470.1L750,463.8L749.5,456.3L748,448.8L750,441.3L753,435.6L753.2,435.4L757.1,432.3L762.6,429.9L768.8,428.4L775.1,426.3L778.2,421.3L780.5,417.4L784.5,413.5L789.1,410.1L793.8,408.5L797.8,410.4L800.1,411.9L800.9,408L804,404.1L807.9,401L810.3,399.4L812.6,401L816.5,402.2L822,402.9L821.2,406.5L817.3,411.2L820.4,414.3L825.1,417.9L829,420.5L832.2,417.4L833.7,411.9L835.8,405.7L837.3,400.2L838.7,398.2L840,402.6L841.5,408.8L843.9,413.5L845.1,419.8L847.8,425.2L850.9,429.1L852.5,435.4L856.4,440.1L858,445.6L855.1,437.6L858.1,443.8L858.1,450.1L856.4,456.3L853.9,461.3L850.1,466.3L845.1,471.3L840.1,476.4L836.4,481.4L832.6,485.1L826.3,486.4L820.1,488.9L813.8,487.6L808.8,485.1L807.6,480.1L808.8,473.9L806.3,471.3L802.6,476.4L800.1,472.6L798.8,468.8L792.6,466.3L785.1,466.3L777.5,468.1L770,471.3L762.5,473.1L755,475.1L749.5,476.4Z"/>
<path fill="#006837" stroke="#006837" stroke-width="0.7" d="M812.1,496.4L816.3,495.1L822.1,495.1L820.1,498.9L816.3,502.6L812.1,503.9L811.3,500.1Z"/>
<path fill="none" stroke="#1a1a1a" stroke-opacity="0.55" stroke-width="0.42" d="M812.1,496.4L816.3,495.1L822.1,495.1L820.1,498.9L816.3,502.6L812.1,503.9L811.3,500.1Z"/>
<path fill="#006837" stroke="#006837" stroke-width="0.7" d="M899.7,475.1L901.4,478.9L902.7,483.9L907.7,485.1L903.9,488.9L898.9,492.6L893.9,496.4L890.2,497.1L891.4,492.6L893.9,488.9L898.2,485.1L898.9,480.1Z"/>
<path fill="none" stroke="#1a1a1a" stroke-opacity="0.55" stroke-width="0.42" d="M899.7,475.1L901.4,478.9L902.7,483.9L907.7,485.1L903.9,488.9L898.9,492.6L893.9,496.4L890.2,497.1L891.4,492.6L893.9,488.9L898.2,485.1L898.9,480.1Z"/>
<path fill="#006837" stroke="#006837" stroke-width="0.7" d="M857.6,511.4L862.6,507.6L870.1,503.9L877.6,499.6L883.9,496.4L888.2,494.6L888.9,497.1L883.9,501.4L877.6,505.1L871.4,508.9L865.1,512.6L860.1,513.9Z"/>
<path fill="none" stroke="#1a1a1a" stroke-opacity="0.55" stroke-width="0.42" d="M857.6,511.4L862.6,507.6L870.1,503.9L877.6,499.6L883.9,496.4L888.2,494.6L888.9,497.1L883.9,501.4L877.6,505.1L871.4,508.9L865.1,512.6L860.1,513.9Z"/>
<path fill="#006837" stroke="#006837" stroke-width="0.7" d="M893.9,428.8L896.4,430.1L900.2,434.6L898.9,436.3L895.2,432.6Z"/>
<path fill="none" stroke="#1a1a1a" stroke-opacity="0.55" stroke-width="0.42" d="M893.9,428.8L896.4,430.1L900.2,434.6L898.9,436.3L895.2,432.6Z"/>
<path fill="#d9f0a3" stroke="#d9f0a3" stroke-width="0.7" d="M903.9,411.3L906.4,412L906.4,417L904.7,416.3Z"/>
<path fill="none" stroke="#1a1a1a" stroke-opacity="0.55" stroke-width="0.42" d="M903.9,411.3L906.4,412L906.4,417L904.7,416.3Z"/>
<path fill="#238443" stroke="#238443" stroke-width="0.7" d="M932.2,420.5L936.5,419.5L935.7,422.6L932.7,423.1Z"/>
<path fill="none" stroke="#1a1a1a" stroke-opacity="0.55" stroke-width="0.42" d="M932.2,420.5L936.5,419.5L935.7,422.6L932.7,423.1Z"/>
<path fill="#238443" stroke="#238443" stroke-width="0.7" d="M937.2,417L941.5,415.5L940.2,417.5Z"/>
<path fill="none" stroke="#1a1a1a" stroke-opacity="0.55" stroke-width="0.42" d="M937.2,417L941.5,415.5L940.2,417.5Z"/>
<path fill="#f7fcb9" stroke="#f7fcb9" stroke-width="0.7" d="M873.9,380L877.6,382.5L881.4,386.3L880.1,387L875.6,383.8Z"/>
<path fill="none" stroke="#1a1a1a" stroke-opacity="0.55" stroke-width="0.42" d="M873.9,380L877.6,382.5L881.4,386.3L880.1,387L875.6,383.8Z"/>
<path fill="#f7fcb9" stroke="#f7fcb9" stroke-width="0.7" d="M886.9,393.2L889.7,392.4L891.6,394.7L888.8,395.7Z"/>
<path fill="none" stroke="#1a1a1a" stroke-opacity="0.55" stroke-width="0.42" d="M886.9,393.2L889.7,392.4L891.6,394.7L888.8,395.7Z"/>
<path fill="#f7fcb9" stroke="#f7fcb9" stroke-width="0.7" d="M890,390.4L892.4,390L893.5,394L891.6,394Z"/>
<path fill="none" stroke="#1a1a1a" stroke-opacity="0.55" stroke-width="0.42" d="M890,390.4L892.4,390L893.5,394L891.6,394Z"/>
<path fill="#f7fcb9" stroke="#f7fcb9" stroke-width="0.7" d="M892.4,397.1L894.7,397.6L894.7,399.1L892.9,398.7Z"/>
<path fill="none" stroke="#1a1a1a" stroke-opacity="0.55" stroke-width="0.42" d="M892.4,397.1L894.7,397.6L894.7,399.1L892.9,398.7Z"/>
<path fill="#f7fcb9" stroke="#f7fcb9" stroke-width="0.7" d="M883.9,388L887.7,390L890.2,393L888.2,393L884.7,390Z"/>
<path fill="none" stroke="#1a1a1a" stroke-opacity="0.55" stroke-width="0.42" d="M883.9,388L887.7,390L890.2,393L888.2,393L884.7,390Z"/>
<path fill="#ffffe5" stroke="#ffffe5" stroke-width="0.7" d="M420,248.8L425,250L430.7,250.3L435,248.2L440,246.9L445,245.7L450,245L455.1,244.8L458.8,244.4L461.9,243.8L465.1,244.8L464.4,248.2L465.3,251.3L464.1,254.4L466.3,257.6L470.1,258.2L475.1,260.1L480.1,261.9L485.1,264.4L489.5,265.7L490.1,261.3L493.2,259.1L497.6,258.6L501.3,259.4L503.9,261.3L508.9,262.6L515.1,263.8L520.1,263.2L525.1,263.8L520,262.6L527.5,263.2L530.6,265.1L531.5,268.6L529,273.8L526.5,270.3L525.3,271.9L527.5,278.8L531.3,285.1L535,290L536.3,290L538.8,293.8L540.7,298.8L542.6,306.3L545.1,308.8L548.2,313.8L551.3,318.2L555.1,322.5L557.6,323.8L558.2,327.5L559.5,329.4L562.6,328.2L568.8,326.9L575.1,326L580.1,325.3L579.9,330L577.6,337.5L574.5,345.1L570.1,352.6L565.1,358.8L560.1,363.8L555.7,367.6L553.2,370.1L550.1,375.1L547,380L546.4,383.8L547.6,388.8L548.2,393.8L550.1,397.5L550.7,403.8L550.7,410L548.9,413.8L545.1,417.5L540.1,421.3L535.7,425.1L532.6,428.8L533.2,432.6L534.5,436.3L533.8,441.3L530.1,443.8L527,445.1L526.3,450.1L525.1,455.1L522.6,460L522.6,460.1L517.6,466.3L511.3,470.1L505.1,472.6L497.6,473.1L490.1,475.1L486.3,473.9L484.6,466.3L482.6,460.1L481.3,456.3L478.2,448.8L476.9,441.3L475.7,435.1L472.5,428.8L470,422.6L469,418.2L469.4,412.5L470.7,407.5L472.8,402.5L474.4,397.5L473.5,392.5L473.2,387.5L471.3,382.5L470,380L466.3,375L462.5,370L461.3,368.9L462.1,363.9L463.8,357.6L462.6,352.6L463.2,356.3L462.6,351.3L460.1,349.8L455.1,349.8L451.9,348.6L448.8,344.8L443.8,343.8L438.8,344.8L433.8,347.3L428.8,348.2L422.5,347.8L416.3,349.1L412.5,348.8L408.8,345.7L405,340.7L401.3,338.8L398.8,335.1L395.6,331.3L392.5,326.9L389.4,323.6L388.8,321.3L386.9,316.9L390.3,311.3L389.8,305L388.8,295.7L390,291.3L392.5,286.3L395,281.9L397.5,278.1L400.6,275L405,271.9L408.8,268.2L410,262.6L412.5,258.8L415.6,255.7L418.1,251.9Z"/>
<path fill="none" stroke="#1a1a1a" stroke-opacity="0.55" stroke-width="0.42" d="M420,248.8L425,250L430.7,250.3L435,248.2L440,246.9L445,245.7L450,245L455.1,244.8L458.8,244.4L461.9,243.8L465.1,244.8L464.4,248.2L465.3,251.3L464.1,254.4L466.3,257.6L470.1,258.2L475.1,260.1L480.1,261.9L485.1,264.4L489.5,265.7L490.1,261.3L493.2,259.1L497.6,258.6L501.3,259.4L503.9,261.3L508.9,262.6L515.1,263.8L520.1,263.2L525.1,263.8L520,262.6L527.5,263.2L530.6,265.1L531.5,268.6L529,273.8L526.5,270.3L525.3,271.9L527.5,278.8L531.3,285.1L535,290L536.3,290L538.8,293.8L540.7,298.8L542.6,306.3L545.1,308.8L548.2,313.8L551.3,318.2L555.1,322.5L557.6,323.8L558.2,327.5L559.5,329.4L562.6,328.2L568.8,326.9L575.1,326L580.1,325.3L579.9,330L577.6,337.5L574.5,345.1L570.1,352.6L565.1,358.8L560.1,363.8L555.7,367.6L553.2,370.1L550.1,375.1L547,380L546.4,383.8L547.6,388.8L548.2,393.8L550.1,397.5L550.7,403.8L550.7,410L548.9,413.8L545.1,417.5L540.1,421.3L535.7,425.1L532.6,428.8L533.2,432.6L534.5,436.3L533.8,441.3L530.1,443.8L527,445.1L526.3,450.1L525.1,455.1L522.6,460L522.6,460.1L517.6,466.3L511.3,470.1L505.1,472.6L497.6,473.1L490.1,475.1L486.3,473.9L484.6,466.3L482.6,460.1L481.3,456.3L478.2,448.8L476.9,441.3L475.7,435.1L472.5,428.8L470,422.6L469,418.2L469.4,412.5L470.7,407.5L472.8,402.5L474.4,397.5L473.5,392.5L473.2,387.5L471.3,382.5L470,380L466.3,375L462.5,370L461.3,368.9L462.1,363.9L463.8,357.6L462.6,352.6L463.2,356.3L462.6,351.3L460.1,349.8L455.1,349.8L451.9,348.6L448.8,344.8L443.8,343.8L438.8,344.8L433.8,347.3L428.8,348.2L422.5,347.8L416.3,349.1L412.5,348.8L408.8,345.7L405,340.7L401.3,338.8L398.8,335.1L395.6,331.3L392.5,326.9L389.4,323.6L388.8,321.3L386.9,316.9L390.3,311.3L389.8,305L388.8,295.7L390,291.3L392.5,286.3L395,281.9L397.5,278.1L400.6,275L405,271.9L408.8,268.2L410,262.6L412.5,258.8L415.6,255.7L418.1,251.9Z"/>
<path fill="#238443" stroke="#238443" stroke-width="0.7" d="M420,248.8L425,250L430.7,250.3L431.3,255.1L432.8,258.6L428.8,260.7L426.3,262.6L423.1,265.1L418.8,267.6L415,268.8L412.5,271.3L411.9,274.8L401.3,274.8L405,271.9L408.8,268.2L410,262.6L412.5,258.8L415.6,255.7L418.1,251.9Z"/>
<path fill="none" stroke="#1a1a1a" stroke-opacity="0.55" stroke-width="0.42" d="M420,248.8L425,250L430.7,250.3L431.3,255.1L432.8,258.6L428.8,260.7L426.3,262.6L423.1,265.1L418.8,267.6L415,268.8L412.5,271.3L411.9,274.8L401.3,274.8L405,271.9L408.8,268.2L410,262.6L412.5,258.8L415.6,255.7L418.1,251.9Z"/>
<path fill="#ededed" stroke="#ededed" stroke-width="0.7" d="M400.6,275L411.9,275L411.9,280L403.1,280.6L403.1,286.9L400.6,288.8L399.4,293.8L395,295L388.8,295.7L390,291.3L392.5,286.3L395,281.9L397.5,278.1Z"/>
<path fill="none" stroke="#1a1a1a" stroke-opacity="0.55" stroke-width="0.42" d="M400.6,275L411.9,275L411.9,280L403.1,280.6L403.1,286.9L400.6,288.8L399.4,293.8L395,295L388.8,295.7L390,291.3L392.5,286.3L395,281.9L397.5,278.1Z"/>
<path fill="#d9f0a3" stroke="#d9f0a3" stroke-width="0.7" d="M411.9,280.3L412.3,277.8L419.4,283.1L420.3,313.2L410,314L403.1,315.7L400.6,313.2L398.1,311.3L393.8,310.7L390.3,311.3L389.8,305L389,296.3L395,295L399.4,293.8L400.6,288.8L403.1,286.9L403.1,280.6Z"/>
<path fill="none" stroke="#1a1a1a" stroke-opacity="0.55" stroke-width="0.42" d="M411.9,280.3L412.3,277.8L419.4,283.1L420.3,313.2L410,314L403.1,315.7L400.6,313.2L398.1,311.3L393.8,310.7L390.3,311.3L389.8,305L389,296.3L395,295L399.4,293.8L400.6,288.8L403.1,286.9L403.1,280.6Z"/>
<path fill="#f7fcb9" stroke="#f7fcb9" stroke-width="0.7" d="M430.7,250.3L435,248.2L440,246.9L445,245.7L450,245L455.1,244.8L458.8,244.4L457.6,248.8L456.3,253.8L458.8,257.6L460.7,261.3L461.9,265.1L462.6,270.1L461.9,275.1L462.6,280.1L465.1,283.8L468.2,286.3L468.2,288.8L455.1,297.5L448.2,302.3L445.1,301.9L419.4,282.5L412.3,275.6L412.5,271.3L415,268.8L418.8,267.6L423.1,265.1L426.3,262.6L428.8,260.7L432.8,258.6L431.3,255.1Z"/>
<path fill="none" stroke="#1a1a1a" stroke-opacity="0.55" stroke-width="0.42" d="M430.7,250.3L435,248.2L440,246.9L445,245.7L450,245L455.1,244.8L458.8,244.4L457.6,248.8L456.3,253.8L458.8,257.6L460.7,261.3L461.9,265.1L462.6,270.1L461.9,275.1L462.6,280.1L465.1,283.8L468.2,286.3L468.2,288.8L455.1,297.5L448.2,302.3L445.1,301.9L419.4,282.5L412.3,275.6L412.5,271.3L415,268.8L418.8,267.6L423.1,265.1L426.3,262.6L428.8,260.7L432.8,258.6L431.3,255.1Z"/>
<path fill="#78c679" stroke="#78c679" stroke-width="0.7" d="M458.8,244.4L461.9,243.8L465.1,244.8L464.4,248.2L465.3,251.3L464.1,254.4L466.3,257.6L465.1,260.7L462.6,262.6L461.9,265.1L460.7,261.3L458.8,257.6L456.3,253.8L457.6,248.8Z"/>
<path fill="none" stroke="#1a1a1a" stroke-opacity="0.55" stroke-width="0.42" d="M458.8,244.4L461.9,243.8L465.1,244.8L464.4,248.2L465.3,251.3L464.1,254.4L466.3,257.6L465.1,260.7L462.6,262.6L461.9,265.1L460.7,261.3L458.8,257.6L456.3,253.8L457.6,248.8Z"/>
<path fill="#d9f0a3" stroke="#d9f0a3" stroke-width="0.7" d="M466.3,257.6L470.1,258.2L475.1,260.1L480.1,261.9L485.1,264.4L489.5,265.7L490.1,261.3L493.2,259.1L497.6,258.6L501.3,259.4L503.9,261.3L504.5,267.6L505.1,275.1L505.7,285.1L505.7,299.4L502,300L480.1,289.4L476.3,290.6L468.2,288.8L468.2,286.3L465.1,283.8L462.6,280.1L461.9,275.1L462.6,270.1L461.9,265.1L462.6,262.6L465.1,260.7Z"/>
<path fill="none" stroke="#1a1a1a" stroke-opacity="0.55" stroke-width="0.42" d="M466.3,257.6L470.1,258.2L475.1,260.1L480.1,261.9L485.1,264.4L489.5,265.7L490.1,261.3L493.2,259.1L497.6,258.6L501.3,259.4L503.9,261.3L504.5,267.6L505.1,275.1L505.7,285.1L505.7,299.4L502,300L480.1,289.4L476.3,290.6L468.2,288.8L468.2,286.3L465.1,283.8L462.6,280.1L461.9,275.1L462.6,270.1L461.9,265.1L462.6,262.6L465.1,260.7Z"/>
<path fill="#f7fcb9" stroke="#f7fcb9" stroke-width="0.7" d="M503.9,261.3L508.9,262.6L515.1,263.8L520.1,263.2L525.1,263.8L520,262.6L527.5,263.2L530.6,265.1L531.5,268.6L529,273.8L526.5,270.3L525.3,271.9L527.5,278.8L531.3,285.1L535,290L536.3,290L538.2,293.1L505.7,293.1L505.7,285.1L505.1,275.1L504.5,267.6Z"/>
<path fill="none" stroke="#1a1a1a" stroke-opacity="0.55" stroke-width="0.42" d="M503.9,261.3L508.9,262.6L515.1,263.8L520.1,263.2L525.1,263.8L520,262.6L527.5,263.2L530.6,265.1L531.5,268.6L529,273.8L526.5,270.3L525.3,271.9L527.5,278.8L531.3,285.1L535,290L536.3,290L538.2,293.1L505.7,293.1L505.7,285.1L505.1,275.1L504.5,267.6Z"/>
<path fill="#f7fcb9" stroke="#f7fcb9" stroke-width="0.7" d="M394.4,327.8L397.5,325.1L403.1,323.6L408.8,324.1L411.9,325.1L412.8,328.8L413.5,332.6L412.8,336.3L410,340.1L408.2,336.3L405.7,333.2L403.1,331.3L400,332.6L397.5,334.4L395.6,331.3Z"/>
<path fill="none" stroke="#1a1a1a" stroke-opacity="0.55" stroke-width="0.42" d="M394.4,327.8L397.5,325.1L403.1,323.6L408.8,324.1L411.9,325.1L412.8,328.8L413.5,332.6L412.8,336.3L410,340.1L408.2,336.3L405.7,333.2L403.1,331.3L400,332.6L397.5,334.4L395.6,331.3Z"/>
<path fill="#f7fcb9" stroke="#f7fcb9" stroke-width="0.7" d="M436.9,328.6L438.8,328.2L439.8,332.6L440.7,337.6L441.3,343.8L438.8,344.4L438.6,340.1L437.8,335.1Z"/>
<path fill="none" stroke="#1a1a1a" stroke-opacity="0.55" stroke-width="0.42" d="M436.9,328.6L438.8,328.2L439.8,332.6L440.7,337.6L441.3,343.8L438.8,344.4L438.6,340.1L437.8,335.1Z"/>
<path fill="#f7fcb9" stroke="#f7fcb9" stroke-width="0.7" d="M463.3,357.1L468.1,357.1L468.1,360.1L463.3,360.1Z"/>
<path fill="none" stroke="#1a1a1a" stroke-opacity="0.55" stroke-width="0.42" d="M463.3,357.1L468.1,357.1L468.1,360.1L463.3,360.1Z"/>
<path fill="#d9f0a3" stroke="#d9f0a3" stroke-width="0.7" d="M519,368.8L521.9,367.8L523.6,369.5L522.6,372L519.4,372.8Z"/>
<path fill="none" stroke="#1a1a1a" stroke-opacity="0.55" stroke-width="0.42" d="M519,368.8L521.9,367.8L523.6,369.5L522.6,372L519.4,372.8Z"/>
<path fill="#ededed" stroke="#ededed" stroke-width="0.7" d="M542.6,306.3L545.1,308.8L548.2,313.8L551.3,318.2L555.1,322.5L557,323.8L555.1,324.4L552,321.3L548.8,318.2L546.3,316.3L542.6,316.9L539.4,318.2L538.8,313.8L540.1,310Z"/>
<path fill="none" stroke="#1a1a1a" stroke-opacity="0.55" stroke-width="0.42" d="M542.6,306.3L545.1,308.8L548.2,313.8L551.3,318.2L555.1,322.5L557,323.8L555.1,324.4L552,321.3L548.8,318.2L546.3,316.3L542.6,316.9L539.4,318.2L538.8,313.8L540.1,310Z"/>
<path fill="#f7fcb9" stroke="#f7fcb9" stroke-width="0.7" d="M471.3,382.5L477.5,382.5L482.5,382.5L484.4,386.3L486.3,389.4L490,388.8L492.6,386.3L496.9,386.9L498.2,391.3L498.8,396.3L499.4,399.4L503.2,399.8L503.2,403.8L498.8,405.7L497.8,410L498.2,415L500.1,419.4L495.1,421.3L488.8,420.7L482.5,419.8L476.3,420L472.5,418.8L469,418.2L469.4,412.5L470.7,407.5L472.8,402.5L474.4,397.5L473.5,392.5L473.2,387.5Z"/>
<path fill="none" stroke="#1a1a1a" stroke-opacity="0.55" stroke-width="0.42" d="M471.3,382.5L477.5,382.5L482.5,382.5L484.4,386.3L486.3,389.4L490,388.8L492.6,386.3L496.9,386.9L498.2,391.3L498.8,396.3L499.4,399.4L503.2,399.8L503.2,403.8L498.8,405.7L497.8,410L498.2,415L500.1,419.4L495.1,421.3L488.8,420.7L482.5,419.8L476.3,420L472.5,418.8L469,418.2L469.4,412.5L470.7,407.5L472.8,402.5L474.4,397.5L473.5,392.5L473.2,387.5Z"/>
<path fill="#f7fcb9" stroke="#f7fcb9" stroke-width="0.7" d="M469.8,378.8L471.5,378.5L472,381.3L470.5,381.5Z"/>
<path fill="none" stroke="#1a1a1a" stroke-opacity="0.55" stroke-width="0.42" d="M469.8,378.8L471.5,378.5L472,381.3L470.5,381.5Z"/>
<path fill="#f7fcb9" stroke="#f7fcb9" stroke-width="0.7" d="M469,418.4L472.5,419L476.3,420.3L482.5,420L488.8,420.9L495.1,421.6L500.1,419.8L505.1,420L502.6,421.3L495.1,422.3L494.1,430.1L493.8,434.4L491.3,435.1L491,445.1L490.7,452.6L489.4,456.3L486.3,457L483.2,455.1L481.3,456.3L478.2,448.8L476.9,441.3L475.7,435.1L472.5,428.8L470,422.6Z"/>
<path fill="none" stroke="#1a1a1a" stroke-opacity="0.55" stroke-width="0.42" d="M469,418.4L472.5,419L476.3,420.3L482.5,420L488.8,420.9L495.1,421.6L500.1,419.8L505.1,420L502.6,421.3L495.1,422.3L494.1,430.1L493.8,434.4L491.3,435.1L491,445.1L490.7,452.6L489.4,456.3L486.3,457L483.2,455.1L481.3,456.3L478.2,448.8L476.9,441.3L475.7,435.1L472.5,428.8L470,422.6Z"/>
<path fill="#d9f0a3" stroke="#d9f0a3" stroke-width="0.7" d="M481.3,456.3L483.2,455.1L486.3,457L489.4,456.3L490.7,452.6L492.6,445.1L494.1,450.1L496.3,448.2L498.8,446.3L502.6,445.1L506.3,445.7L508.2,443.8L510.1,441.3L512.6,438.8L515.1,436.9L517.6,435.1L521.3,435.3L523.6,435.1L524.5,440.1L523.8,445.1L526.3,447.6L526.3,450.1L525.1,455.1L522.6,460L522.6,460.1L517.6,466.3L511.3,470.1L505.1,472.6L497.6,473.1L490.1,475.1L486.3,473.9L484.6,466.3L482.6,460.1Z"/>
<path fill="none" stroke="#1a1a1a" stroke-opacity="0.55" stroke-width="0.42" d="M481.3,456.3L483.2,455.1L486.3,457L489.4,456.3L490.7,452.6L492.6,445.1L494.1,450.1L496.3,448.2L498.8,446.3L502.6,445.1L506.3,445.7L508.2,443.8L510.1,441.3L512.6,438.8L515.1,436.9L517.6,435.1L521.3,435.3L523.6,435.1L524.5,440.1L523.8,445.1L526.3,447.6L526.3,450.1L525.1,455.1L522.6,460L522.6,460.1L517.6,466.3L511.3,470.1L505.1,472.6L497.6,473.1L490.1,475.1L486.3,473.9L484.6,466.3L482.6,460.1Z"/>
<path fill="#addd8e" stroke="#addd8e" stroke-width="0.7" d="M495.1,422.3L502.6,421.3L505.7,420.7L507.6,422.6L509.4,426.3L512.6,430.1L515.1,433.2L517.6,435.1L515.1,436.9L512.6,438.8L510.1,441.3L508.2,443.8L506.3,445.7L502.6,445.1L498.8,446.3L496.3,448.2L494.1,450.1L492.6,445.1L491.6,440.1L491.3,435.1L493.8,434.4L494.1,430.1Z"/>
<path fill="none" stroke="#1a1a1a" stroke-opacity="0.55" stroke-width="0.42" d="M495.1,422.3L502.6,421.3L505.7,420.7L507.6,422.6L509.4,426.3L512.6,430.1L515.1,433.2L517.6,435.1L515.1,436.9L512.6,438.8L510.1,441.3L508.2,443.8L506.3,445.7L502.6,445.1L498.8,446.3L496.3,448.2L494.1,450.1L492.6,445.1L491.6,440.1L491.3,435.1L493.8,434.4L494.1,430.1Z"/>
<path fill="#d9f0a3" stroke="#d9f0a3" stroke-width="0.7" d="M508.2,422.6L511.3,421.3L515.1,418.2L518.2,415.7L521.3,414.4L525.1,415.7L527.6,417.5L528.2,422.6L527.6,427.6L526.3,431.3L523.8,434.4L521.3,435.1L517.6,434.8L515.1,433.2L512.6,430.1L509.4,426.3Z"/>
<path fill="none" stroke="#1a1a1a" stroke-opacity="0.55" stroke-width="0.42" d="M508.2,422.6L511.3,421.3L515.1,418.2L518.2,415.7L521.3,414.4L525.1,415.7L527.6,417.5L528.2,422.6L527.6,427.6L526.3,431.3L523.8,434.4L521.3,435.1L517.6,434.8L515.1,433.2L512.6,430.1L509.4,426.3Z"/>
<path fill="#ededed" stroke="#ededed" stroke-width="0.7" d="M498.8,405.7L503.2,403.8L503.2,400L506.3,401.3L510.1,401.9L513.8,403.2L516.3,401.9L517.8,402.8L518.6,405.7L520.1,405L519.1,401.9L517,400L516.6,393.1L518.2,391.3L522,391L526.3,392.5L529.5,394.4L529.8,398.8L528.8,403.8L528.2,407.5L525.1,409.4L521.3,410.7L520.1,413.8L517.6,415.7L515.1,418.2L511.9,420.7L508.2,421.3L505.1,420L501.3,419L498.8,416.3L497.8,411.3Z"/>
<path fill="none" stroke="#1a1a1a" stroke-opacity="0.55" stroke-width="0.42" d="M498.8,405.7L503.2,403.8L503.2,400L506.3,401.3L510.1,401.9L513.8,403.2L516.3,401.9L517.8,402.8L518.6,405.7L520.1,405L519.1,401.9L517,400L516.6,393.1L518.2,391.3L522,391L526.3,392.5L529.5,394.4L529.8,398.8L528.8,403.8L528.2,407.5L525.1,409.4L521.3,410.7L520.1,413.8L517.6,415.7L515.1,418.2L511.9,420.7L508.2,421.3L505.1,420L501.3,419L498.8,416.3L497.8,411.3Z"/>
<path fill="#f7fcb9" stroke="#f7fcb9" stroke-width="0.7" d="M533.8,401.3L540.1,400.7L546.4,398.8L550.1,397.8L550.7,403.8L550.7,410L548.9,413.8L545.1,417.5L540.1,421.3L535.7,425.1L532.6,428.8L533.2,432.6L534.5,436.3L533.8,441.3L530.1,443.8L527,445.1L526.3,447.6L523.8,445.1L524.5,440.1L523.6,435.1L526.3,431.3L527.6,427.6L528.2,422.6L527.6,417.5L525.1,415.7L521.3,414.4L521.3,411L525.1,409.8L528.2,407.8L529.5,406.5L530.7,409L532.6,411.5L533.2,416.5L535.3,417.2L536.6,413.2L536,408.8L533.8,405Z"/>
<path fill="none" stroke="#1a1a1a" stroke-opacity="0.55" stroke-width="0.42" d="M533.8,401.3L540.1,400.7L546.4,398.8L550.1,397.8L550.7,403.8L550.7,410L548.9,413.8L545.1,417.5L540.1,421.3L535.7,425.1L532.6,428.8L533.2,432.6L534.5,436.3L533.8,441.3L530.1,443.8L527,445.1L526.3,447.6L523.8,445.1L524.5,440.1L523.6,435.1L526.3,431.3L527.6,427.6L528.2,422.6L527.6,417.5L525.1,415.7L521.3,414.4L521.3,411L525.1,409.8L528.2,407.8L529.5,406.5L530.7,409L532.6,411.5L533.2,416.5L535.3,417.2L536.6,413.2L536,408.8L533.8,405Z"/>
<path fill="#ffffe5" stroke="#ffffe5" stroke-width="0.7" d="M529.8,394.4L532,395L533.2,400L533.6,405L535.7,408.8L536.3,413.2L535.1,416.9L533.2,416.3L532.6,411.3L530.7,408.8L529.5,406.3L529.1,402.5Z"/>
<path fill="none" stroke="#1a1a1a" stroke-opacity="0.55" stroke-width="0.42" d="M529.8,394.4L532,395L533.2,400L533.6,405L535.7,408.8L536.3,413.2L535.1,416.9L533.2,416.3L532.6,411.3L530.7,408.8L529.5,406.3L529.1,402.5Z"/>
<path fill="#d9f0a3" stroke="#d9f0a3" stroke-width="0.7" d="M510.1,458.1L514.6,456.3L516.3,459.6L512.6,462.6Z"/>
<path fill="none" stroke="#1a1a1a" stroke-opacity="0.55" stroke-width="0.42" d="M510.1,458.1L514.6,456.3L516.3,459.6L512.6,462.6Z"/>
<path fill="#d9f0a3" stroke="#d9f0a3" stroke-width="0.7" d="M520.7,447L522.6,446.1L524.1,448.2L523.2,451.1L521.1,450.7Z"/>
<path fill="none" stroke="#1a1a1a" stroke-opacity="0.55" stroke-width="0.42" d="M520.7,447L522.6,446.1L524.1,448.2L523.2,451.1L521.1,450.7Z"/>
<path fill="#ffffe5" stroke="#ffffe5" stroke-width="0.7" d="M557.1,433.8L558.9,425.1L560.6,417.5L566.4,412.5L571.4,407.5L575.2,403L577.7,407.5L577.2,415L573.9,423.8L570.1,432.6L567.1,441.3L563.1,445.6L558.1,443.8L556.4,438.8Z"/>
<path fill="none" stroke="#1a1a1a" stroke-opacity="0.55" stroke-width="0.42" d="M557.1,433.8L558.9,425.1L560.6,417.5L566.4,412.5L571.4,407.5L575.2,403L577.7,407.5L577.2,415L573.9,423.8L570.1,432.6L567.1,441.3L563.1,445.6L558.1,443.8L556.4,438.8Z"/>
<path fill="none" stroke="#1a1a1a" stroke-opacity="0.55" stroke-width="0.42" d="M420.3,313.2L410,314L403.1,315.7L402.5,320L403.1,323.2L406.3,323.2L408.8,323.8L411.9,325.1L413.8,330.7L416.9,331.3L420,330.1L421.9,326.3L423.2,322.6L425,320L430,318.2L433.8,315.7L437.6,315L441.3,314L446.3,313.2L447.6,307.5L448.2,302.5"/>
<path fill="none" stroke="#1a1a1a" stroke-opacity="0.55" stroke-width="0.42" d="M403.1,323.2L398.1,323.8L394.4,323.6L389.4,323.2"/>
<path fill="none" stroke="#1a1a1a" stroke-opacity="0.55" stroke-width="0.42" d="M388.8,320.3L396.3,319.8L396.5,321.3L389,321.6"/>
<path fill="none" stroke="#1a1a1a" stroke-opacity="0.55" stroke-width="0.42" d="M389.4,323.6L394.4,323.8L397.5,325.1"/>
<path fill="none" stroke="#1a1a1a" stroke-opacity="0.55" stroke-width="0.42" d="M398.8,335.1L400.6,332.6L403.8,331.9L405.7,333.8L406.9,336.9L405,340.7"/>
<path fill="none" stroke="#1a1a1a" stroke-opacity="0.55" stroke-width="0.42" d="M406.9,336.9L410,340.3"/>
<path fill="none" stroke="#1a1a1a" stroke-opacity="0.55" stroke-width="0.42" d="M412.8,336.3L410.7,340.1L412.8,343.2L414.4,347.6"/>
<path fill="none" stroke="#1a1a1a" stroke-opacity="0.55" stroke-width="0.42" d="M423.2,331.9L427.3,332.6L428.2,336.3L427.5,341.3L428.2,347"/>
<path fill="none" stroke="#1a1a1a" stroke-opacity="0.55" stroke-width="0.42" d="M427.3,332.6L427.5,328.6L433.8,328.2L436.9,328.6L438.8,328.2L442.6,326.3L445.1,325.1L441.3,322.6L438.8,318.8L437.6,315.3"/>
<path fill="none" stroke="#1a1a1a" stroke-opacity="0.55" stroke-width="0.42" d="M436.9,328.6L437.8,335.1L438.6,340.1L438.8,344.4"/>
<path fill="none" stroke="#1a1a1a" stroke-opacity="0.55" stroke-width="0.42" d="M445.1,325.1L445.7,325.7L445.1,330.1L443.8,335.1L443.6,343.6"/>
<path fill="none" stroke="#1a1a1a" stroke-opacity="0.55" stroke-width="0.42" d="M441.3,343.8L440.7,337.6L439.8,332.6L438.8,328.2"/>
<path fill="none" stroke="#1a1a1a" stroke-opacity="0.55" stroke-width="0.42" d="M476.3,290.6L478.8,293.8L480.1,298.8L478.8,306.3L476.3,311.3L474.5,315L476.3,320L472.6,321.3L467.6,320.7L461.3,321.9L455.1,320.7L450.1,320L446.9,321.3L445.1,325.1"/>
<path fill="none" stroke="#1a1a1a" stroke-opacity="0.55" stroke-width="0.42" d="M476.3,320L477.6,325.1L478.8,328.8L476.3,332.6L473.8,337.6L470.7,341.3L467.6,341.9L463.8,342.6L461.3,346.3L460.1,349.5"/>
<path fill="none" stroke="#1a1a1a" stroke-opacity="0.55" stroke-width="0.42" d="M502,300L502.6,306.3L500.1,312.5L498.2,318.8L498.9,323.8L501.4,328.8L497.6,331.3L492.6,333.8L488.9,335.7L483.9,338.2L480.1,339.4L478.8,335.1L477.6,331.3L478.8,328.8"/>
<path fill="none" stroke="#1a1a1a" stroke-opacity="0.55" stroke-width="0.42" d="M480.1,339.4L478.8,343.8L481.3,347.6L483.9,351.3L485.1,355.1L480.1,356.3L475.1,356.3L467.6,356.3L463.2,356.3"/>
<path fill="none" stroke="#1a1a1a" stroke-opacity="0.55" stroke-width="0.42" d="M503.2,300L503.2,306.3L502.8,313.1L500,317.5L498.8,323.2L500.7,327.5L502.5,332.5L504.4,335.7L505.7,332.5L507.5,330.7L511.3,331.9L515,332.5L518.8,333.2L522.6,331.3L525.7,328.8L526.9,325.7L528.8,324.4L530.1,326.3L531.3,331.3L533.8,330L536.3,326.3L538.2,322.5L539.4,318.2"/>
<path fill="none" stroke="#1a1a1a" stroke-opacity="0.55" stroke-width="0.42" d="M531.3,331.3L531.9,334.4L530.1,338.2L532.6,341.3L535.1,345.1L536.3,346.9L532.6,350.7L527.6,351.9L523.8,351.9L520,349.4L516.3,348.8L513.2,346.9L510.7,343.8L507.5,340L504.4,335.7"/>
<path fill="none" stroke="#1a1a1a" stroke-opacity="0.55" stroke-width="0.42" d="M555.1,324.4L554.1,326.9L556.3,328.2L557,331.3L561.3,334.4L566.3,336.9L571.3,338.2L567.6,342.6L563.8,346.3L560.1,348.2L555.1,350.7L550.1,351.3L545.1,352.6L541.3,350.7L538.2,348.8L536.3,346.9"/>
<path fill="none" stroke="#1a1a1a" stroke-opacity="0.55" stroke-width="0.42" d="M554.1,326.9L555.1,322.8"/>
<path fill="none" stroke="#1a1a1a" stroke-opacity="0.55" stroke-width="0.42" d="M556.3,328.2L558.2,327.5"/>
<path fill="none" stroke="#1a1a1a" stroke-opacity="0.55" stroke-width="0.42" d="M555.1,350.7L553.2,352.6L552.6,357.6L552,365.1L553.2,370.1"/>
<path fill="none" stroke="#1a1a1a" stroke-opacity="0.55" stroke-width="0.42" d="M532.6,350.7L534.4,353.8L535.1,358.2L533.8,362.6L532.6,366.6L537.6,370.1L542.6,375.1L547,378.8"/>
<path fill="none" stroke="#1a1a1a" stroke-opacity="0.55" stroke-width="0.42" d="M523.8,351.9L523.8,356.3L521.9,360.1L520.7,365.1L519,368.8"/>
<path fill="none" stroke="#1a1a1a" stroke-opacity="0.55" stroke-width="0.42" d="M532.6,366.6L525.1,367.3L521.9,368.2"/>
<path fill="none" stroke="#1a1a1a" stroke-opacity="0.55" stroke-width="0.42" d="M513.2,346.9L507.5,347.6L503.8,348.2L500,349.8L496.3,349.4L491.9,347.6L488.8,348.8L487.5,353.8L486.9,360.1L486.3,365.1L482.5,370.1L481.3,375.1L480.6,380"/>
<path fill="none" stroke="#1a1a1a" stroke-opacity="0.55" stroke-width="0.42" d="M519.4,372.8L518.8,377.6L519.4,380"/>
<path fill="none" stroke="#1a1a1a" stroke-opacity="0.55" stroke-width="0.42" d="M488.8,348.8L487.5,352.6L482.5,354.4L480,351.3L478.1,347.6L477.5,343.8L479.4,339.4L483.8,338.2L488.8,336.3L490,334.4L495,332.5L499.4,328.8L500.7,327.5"/>
<path fill="none" stroke="#1a1a1a" stroke-opacity="0.55" stroke-width="0.42" d="M482.5,354.4L481.9,358.2L470,357.6"/>
<path fill="none" stroke="#1a1a1a" stroke-opacity="0.55" stroke-width="0.42" d="M468.1,360.1L475.1,360.1L476.3,367.6"/>
<path fill="none" stroke="#1a1a1a" stroke-opacity="0.55" stroke-width="0.42" d="M463.3,360.1L468.1,360.1"/>
<path fill="none" stroke="#1a1a1a" stroke-opacity="0.55" stroke-width="0.42" d="M520.1,370L519.5,376.3L519.1,381.3L520.1,386.3L522,391"/>
<path fill="none" stroke="#1a1a1a" stroke-opacity="0.55" stroke-width="0.42" d="M533.8,401.3L532,395"/>
<path fill="none" stroke="#1a1a1a" stroke-opacity="0.55" stroke-width="0.42" d="M547,378.8L542.6,375.1L537.6,370.1L532.6,366.6"/>
<path fill="none" stroke="#1a1a1a" stroke-opacity="0.55" stroke-width="0.42" d="M471.3,382.5L477.5,382.5L482.5,382.5"/>
<path fill="none" stroke="#1a1a1a" stroke-opacity="0.55" stroke-width="0.42" d="M470,380L472.5,377.5L477.5,378.8L480,375L481.3,370"/>
<path fill="none" stroke="#1a1a1a" stroke-opacity="0.55" stroke-width="0.42" d="M462.5,370L468.8,373.8L471.3,371.3L477.5,370.6"/>
<path fill="none" stroke="#1a1a1a" stroke-opacity="0.55" stroke-width="0.42" d="M519.1,372.5L521.3,371.9L522,375L520.1,376.3"/>
<path fill="#ffffff" stroke="#ffffff" stroke-width="0.7" d="M556.3,218.8L558.8,215.6L562.5,214L567.5,213.5L570,215L569.4,217.5L566.3,218.8L565.7,221.3L568.2,224.4L571.3,227.5L573.2,231.3L573.8,235L576.3,237.5L578.6,241.3L577.8,244L573.8,245L570,243.8L566.9,241.9L565.7,238.8L566.3,235.7L563.2,230.7L560.7,226.9L558.2,223.1Z"/>
<path fill="none" stroke="#1a1a1a" stroke-opacity="0.55" stroke-width="0.42" d="M556.3,218.8L558.8,215.6L562.5,214L567.5,213.5L570,215L569.4,217.5L566.3,218.8L565.7,221.3L568.2,224.4L571.3,227.5L573.2,231.3L573.8,235L576.3,237.5L578.6,241.3L577.8,244L573.8,245L570,243.8L566.9,241.9L565.7,238.8L566.3,235.7L563.2,230.7L560.7,226.9L558.2,223.1Z"/>
</g>
</svg>
<svg id="legend" width="1023" height="719" viewBox="0 0 1023 719" style="position:absolute;left:0;top:0">
<rect x="113.5" y="632" width="58" height="12.5" fill="#eee" stroke="#999" stroke-width="0.6"/>
<line x1="142.5" y1="629" x2="142.5" y2="634" stroke="#bbb" stroke-width="0.6"/>
<rect x="189.5" y="632" width="72.35" height="12.5" fill="#ffffe5"/>
<rect x="261.65" y="632" width="72.35" height="12.5" fill="#f7fcb9"/>
<rect x="333.8" y="632" width="72.35" height="12.5" fill="#d9f0a3"/>
<rect x="405.95" y="632" width="72.35" height="12.5" fill="#addd8e"/>
<rect x="478.1" y="632" width="72.35" height="12.5" fill="#78c679"/>
<rect x="550.25" y="632" width="72.35" height="12.5" fill="#41ab5d"/>
<rect x="622.4" y="632" width="72.35" height="12.5" fill="#238443"/>
<rect x="694.55" y="632" width="72.35" height="12.5" fill="#006837"/>
<rect x="766.7" y="632" width="72.35" height="12.5" fill="#005a32"/>
<rect x="838.85" y="632" width="72.35" height="12.5" fill="#004529"/>
<rect x="189.5" y="632" width="721.5" height="12.5" fill="none" stroke="#999" stroke-width="0.5"/>
<line x1="189.5" y1="629" x2="189.5" y2="644.5" stroke="#000" stroke-opacity="0.3" stroke-width="0.6"/>
<line x1="261.65" y1="629" x2="261.65" y2="644.5" stroke="#000" stroke-opacity="0.3" stroke-width="0.6"/>
<line x1="333.8" y1="629" x2="333.8" y2="644.5" stroke="#000" stroke-opacity="0.3" stroke-width="0.6"/>
<line x1="405.95" y1="629" x2="405.95" y2="644.5" stroke="#000" stroke-opacity="0.3" stroke-width="0.6"/>
<line x1="478.1" y1="629" x2="478.1" y2="644.5" stroke="#000" stroke-opacity="0.3" stroke-width="0.6"/>
<line x1="550.25" y1="629" x2="550.25" y2="644.5" stroke="#000" stroke-opacity="0.3" stroke-width="0.6"/>
<line x1="622.4" y1="629" x2="622.4" y2="644.5" stroke="#000" stroke-opacity="0.3" stroke-width="0.6"/>
<line x1="694.55" y1="629" x2="694.55" y2="644.5" stroke="#000" stroke-opacity="0.3" stroke-width="0.6"/>
<line x1="766.7" y1="629" x2="766.7" y2="644.5" stroke="#000" stroke-opacity="0.3" stroke-width="0.6"/>
<line x1="838.85" y1="629" x2="838.85" y2="644.5" stroke="#000" stroke-opacity="0.3" stroke-width="0.6"/>
<line x1="911" y1="629" x2="911" y2="644.5" stroke="#000" stroke-opacity="0.3" stroke-width="0.6"/>
</svg>
<div class="leg" style="left:142.5px">No data</div>
<div class="leg" style="left:189.5px">0%</div>
<div class="leg" style="left:261.65px">10%</div>
<div class="leg" style="left:333.8px">20%</div>
<div class="leg" style="left:405.95px">30%</div>
<div class="leg" style="left:478.1px">40%</div>
<div class="leg" style="left:550.25px">50%</div>
<div class="leg" style="left:622.4px">60%</div>
<div class="leg" style="left:694.55px">70%</div>
<div class="leg" style="left:766.7px">80%</div>
<div class="leg" style="left:838.85px">90%</div>
<div class="leg" style="left:911px">100%</div>
<div id="footer">Source: Official data collated by Our World in Data – Last updated 8 November 2021, 11:00 (London time)<br>OurWorldInData.org/coronavirus • CC BY</div>
</body>
</html>
